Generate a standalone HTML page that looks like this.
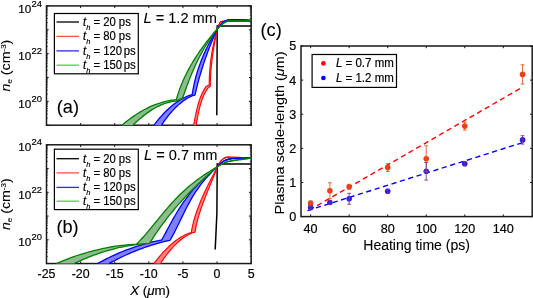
<!DOCTYPE html>
<html><head><meta charset="utf-8"><style>
html,body{margin:0;padding:0;background:#fff;}
body{width:533px;height:298px;overflow:hidden;}
svg{display:block;font-family:"Liberation Sans", sans-serif;will-change:transform;}
.t{fill:#000;stroke:#000;stroke-width:0.18px;}
.t2{fill:#000;stroke:#000;stroke-width:0.1px;}
</style></head><body>
<svg width="533" height="298" viewBox="0 0 533 298">
<rect width="533" height="298" fill="#fff"/>
<rect x="46.50" y="5.90" width="204.65" height="119.30" fill="none" stroke="#1a1a1a" stroke-width="1.5"/>
<line x1="46.50" y1="125.20" x2="46.50" y2="123.00" stroke="#1a1a1a" stroke-width="1"/>
<line x1="46.50" y1="5.90" x2="46.50" y2="8.10" stroke="#1a1a1a" stroke-width="1"/>
<line x1="80.61" y1="125.20" x2="80.61" y2="123.00" stroke="#1a1a1a" stroke-width="1"/>
<line x1="80.61" y1="5.90" x2="80.61" y2="8.10" stroke="#1a1a1a" stroke-width="1"/>
<line x1="114.72" y1="125.20" x2="114.72" y2="123.00" stroke="#1a1a1a" stroke-width="1"/>
<line x1="114.72" y1="5.90" x2="114.72" y2="8.10" stroke="#1a1a1a" stroke-width="1"/>
<line x1="148.82" y1="125.20" x2="148.82" y2="123.00" stroke="#1a1a1a" stroke-width="1"/>
<line x1="148.82" y1="5.90" x2="148.82" y2="8.10" stroke="#1a1a1a" stroke-width="1"/>
<line x1="182.93" y1="125.20" x2="182.93" y2="123.00" stroke="#1a1a1a" stroke-width="1"/>
<line x1="182.93" y1="5.90" x2="182.93" y2="8.10" stroke="#1a1a1a" stroke-width="1"/>
<line x1="217.04" y1="125.20" x2="217.04" y2="123.00" stroke="#1a1a1a" stroke-width="1"/>
<line x1="217.04" y1="5.90" x2="217.04" y2="8.10" stroke="#1a1a1a" stroke-width="1"/>
<line x1="251.15" y1="125.20" x2="251.15" y2="123.00" stroke="#1a1a1a" stroke-width="1"/>
<line x1="251.15" y1="5.90" x2="251.15" y2="8.10" stroke="#1a1a1a" stroke-width="1"/>
<line x1="46.50" y1="125.20" x2="48.70" y2="125.20" stroke="#1a1a1a" stroke-width="1"/>
<line x1="251.15" y1="125.20" x2="248.95" y2="125.20" stroke="#1a1a1a" stroke-width="1"/>
<line x1="46.50" y1="118.02" x2="47.80" y2="118.02" stroke="#1a1a1a" stroke-width="0.8"/>
<line x1="251.15" y1="118.02" x2="249.85" y2="118.02" stroke="#1a1a1a" stroke-width="0.8"/>
<line x1="46.50" y1="113.82" x2="47.80" y2="113.82" stroke="#1a1a1a" stroke-width="0.8"/>
<line x1="251.15" y1="113.82" x2="249.85" y2="113.82" stroke="#1a1a1a" stroke-width="0.8"/>
<line x1="46.50" y1="110.83" x2="47.80" y2="110.83" stroke="#1a1a1a" stroke-width="0.8"/>
<line x1="251.15" y1="110.83" x2="249.85" y2="110.83" stroke="#1a1a1a" stroke-width="0.8"/>
<line x1="46.50" y1="108.52" x2="47.80" y2="108.52" stroke="#1a1a1a" stroke-width="0.8"/>
<line x1="251.15" y1="108.52" x2="249.85" y2="108.52" stroke="#1a1a1a" stroke-width="0.8"/>
<line x1="46.50" y1="106.63" x2="47.80" y2="106.63" stroke="#1a1a1a" stroke-width="0.8"/>
<line x1="251.15" y1="106.63" x2="249.85" y2="106.63" stroke="#1a1a1a" stroke-width="0.8"/>
<line x1="46.50" y1="105.04" x2="47.80" y2="105.04" stroke="#1a1a1a" stroke-width="0.8"/>
<line x1="251.15" y1="105.04" x2="249.85" y2="105.04" stroke="#1a1a1a" stroke-width="0.8"/>
<line x1="46.50" y1="103.65" x2="47.80" y2="103.65" stroke="#1a1a1a" stroke-width="0.8"/>
<line x1="251.15" y1="103.65" x2="249.85" y2="103.65" stroke="#1a1a1a" stroke-width="0.8"/>
<line x1="46.50" y1="102.43" x2="47.80" y2="102.43" stroke="#1a1a1a" stroke-width="0.8"/>
<line x1="251.15" y1="102.43" x2="249.85" y2="102.43" stroke="#1a1a1a" stroke-width="0.8"/>
<line x1="46.50" y1="101.34" x2="48.70" y2="101.34" stroke="#1a1a1a" stroke-width="1"/>
<line x1="251.15" y1="101.34" x2="248.95" y2="101.34" stroke="#1a1a1a" stroke-width="1"/>
<line x1="46.50" y1="94.16" x2="47.80" y2="94.16" stroke="#1a1a1a" stroke-width="0.8"/>
<line x1="251.15" y1="94.16" x2="249.85" y2="94.16" stroke="#1a1a1a" stroke-width="0.8"/>
<line x1="46.50" y1="89.96" x2="47.80" y2="89.96" stroke="#1a1a1a" stroke-width="0.8"/>
<line x1="251.15" y1="89.96" x2="249.85" y2="89.96" stroke="#1a1a1a" stroke-width="0.8"/>
<line x1="46.50" y1="86.97" x2="47.80" y2="86.97" stroke="#1a1a1a" stroke-width="0.8"/>
<line x1="251.15" y1="86.97" x2="249.85" y2="86.97" stroke="#1a1a1a" stroke-width="0.8"/>
<line x1="46.50" y1="84.66" x2="47.80" y2="84.66" stroke="#1a1a1a" stroke-width="0.8"/>
<line x1="251.15" y1="84.66" x2="249.85" y2="84.66" stroke="#1a1a1a" stroke-width="0.8"/>
<line x1="46.50" y1="82.77" x2="47.80" y2="82.77" stroke="#1a1a1a" stroke-width="0.8"/>
<line x1="251.15" y1="82.77" x2="249.85" y2="82.77" stroke="#1a1a1a" stroke-width="0.8"/>
<line x1="46.50" y1="81.18" x2="47.80" y2="81.18" stroke="#1a1a1a" stroke-width="0.8"/>
<line x1="251.15" y1="81.18" x2="249.85" y2="81.18" stroke="#1a1a1a" stroke-width="0.8"/>
<line x1="46.50" y1="79.79" x2="47.80" y2="79.79" stroke="#1a1a1a" stroke-width="0.8"/>
<line x1="251.15" y1="79.79" x2="249.85" y2="79.79" stroke="#1a1a1a" stroke-width="0.8"/>
<line x1="46.50" y1="78.57" x2="47.80" y2="78.57" stroke="#1a1a1a" stroke-width="0.8"/>
<line x1="251.15" y1="78.57" x2="249.85" y2="78.57" stroke="#1a1a1a" stroke-width="0.8"/>
<line x1="46.50" y1="77.48" x2="48.70" y2="77.48" stroke="#1a1a1a" stroke-width="1"/>
<line x1="251.15" y1="77.48" x2="248.95" y2="77.48" stroke="#1a1a1a" stroke-width="1"/>
<line x1="46.50" y1="70.30" x2="47.80" y2="70.30" stroke="#1a1a1a" stroke-width="0.8"/>
<line x1="251.15" y1="70.30" x2="249.85" y2="70.30" stroke="#1a1a1a" stroke-width="0.8"/>
<line x1="46.50" y1="66.10" x2="47.80" y2="66.10" stroke="#1a1a1a" stroke-width="0.8"/>
<line x1="251.15" y1="66.10" x2="249.85" y2="66.10" stroke="#1a1a1a" stroke-width="0.8"/>
<line x1="46.50" y1="63.11" x2="47.80" y2="63.11" stroke="#1a1a1a" stroke-width="0.8"/>
<line x1="251.15" y1="63.11" x2="249.85" y2="63.11" stroke="#1a1a1a" stroke-width="0.8"/>
<line x1="46.50" y1="60.80" x2="47.80" y2="60.80" stroke="#1a1a1a" stroke-width="0.8"/>
<line x1="251.15" y1="60.80" x2="249.85" y2="60.80" stroke="#1a1a1a" stroke-width="0.8"/>
<line x1="46.50" y1="58.91" x2="47.80" y2="58.91" stroke="#1a1a1a" stroke-width="0.8"/>
<line x1="251.15" y1="58.91" x2="249.85" y2="58.91" stroke="#1a1a1a" stroke-width="0.8"/>
<line x1="46.50" y1="57.32" x2="47.80" y2="57.32" stroke="#1a1a1a" stroke-width="0.8"/>
<line x1="251.15" y1="57.32" x2="249.85" y2="57.32" stroke="#1a1a1a" stroke-width="0.8"/>
<line x1="46.50" y1="55.93" x2="47.80" y2="55.93" stroke="#1a1a1a" stroke-width="0.8"/>
<line x1="251.15" y1="55.93" x2="249.85" y2="55.93" stroke="#1a1a1a" stroke-width="0.8"/>
<line x1="46.50" y1="54.71" x2="47.80" y2="54.71" stroke="#1a1a1a" stroke-width="0.8"/>
<line x1="251.15" y1="54.71" x2="249.85" y2="54.71" stroke="#1a1a1a" stroke-width="0.8"/>
<line x1="46.50" y1="53.62" x2="48.70" y2="53.62" stroke="#1a1a1a" stroke-width="1"/>
<line x1="251.15" y1="53.62" x2="248.95" y2="53.62" stroke="#1a1a1a" stroke-width="1"/>
<line x1="46.50" y1="46.44" x2="47.80" y2="46.44" stroke="#1a1a1a" stroke-width="0.8"/>
<line x1="251.15" y1="46.44" x2="249.85" y2="46.44" stroke="#1a1a1a" stroke-width="0.8"/>
<line x1="46.50" y1="42.24" x2="47.80" y2="42.24" stroke="#1a1a1a" stroke-width="0.8"/>
<line x1="251.15" y1="42.24" x2="249.85" y2="42.24" stroke="#1a1a1a" stroke-width="0.8"/>
<line x1="46.50" y1="39.25" x2="47.80" y2="39.25" stroke="#1a1a1a" stroke-width="0.8"/>
<line x1="251.15" y1="39.25" x2="249.85" y2="39.25" stroke="#1a1a1a" stroke-width="0.8"/>
<line x1="46.50" y1="36.94" x2="47.80" y2="36.94" stroke="#1a1a1a" stroke-width="0.8"/>
<line x1="251.15" y1="36.94" x2="249.85" y2="36.94" stroke="#1a1a1a" stroke-width="0.8"/>
<line x1="46.50" y1="35.05" x2="47.80" y2="35.05" stroke="#1a1a1a" stroke-width="0.8"/>
<line x1="251.15" y1="35.05" x2="249.85" y2="35.05" stroke="#1a1a1a" stroke-width="0.8"/>
<line x1="46.50" y1="33.46" x2="47.80" y2="33.46" stroke="#1a1a1a" stroke-width="0.8"/>
<line x1="251.15" y1="33.46" x2="249.85" y2="33.46" stroke="#1a1a1a" stroke-width="0.8"/>
<line x1="46.50" y1="32.07" x2="47.80" y2="32.07" stroke="#1a1a1a" stroke-width="0.8"/>
<line x1="251.15" y1="32.07" x2="249.85" y2="32.07" stroke="#1a1a1a" stroke-width="0.8"/>
<line x1="46.50" y1="30.85" x2="47.80" y2="30.85" stroke="#1a1a1a" stroke-width="0.8"/>
<line x1="251.15" y1="30.85" x2="249.85" y2="30.85" stroke="#1a1a1a" stroke-width="0.8"/>
<line x1="46.50" y1="29.76" x2="48.70" y2="29.76" stroke="#1a1a1a" stroke-width="1"/>
<line x1="251.15" y1="29.76" x2="248.95" y2="29.76" stroke="#1a1a1a" stroke-width="1"/>
<line x1="46.50" y1="22.58" x2="47.80" y2="22.58" stroke="#1a1a1a" stroke-width="0.8"/>
<line x1="251.15" y1="22.58" x2="249.85" y2="22.58" stroke="#1a1a1a" stroke-width="0.8"/>
<line x1="46.50" y1="18.38" x2="47.80" y2="18.38" stroke="#1a1a1a" stroke-width="0.8"/>
<line x1="251.15" y1="18.38" x2="249.85" y2="18.38" stroke="#1a1a1a" stroke-width="0.8"/>
<line x1="46.50" y1="15.39" x2="47.80" y2="15.39" stroke="#1a1a1a" stroke-width="0.8"/>
<line x1="251.15" y1="15.39" x2="249.85" y2="15.39" stroke="#1a1a1a" stroke-width="0.8"/>
<line x1="46.50" y1="13.08" x2="47.80" y2="13.08" stroke="#1a1a1a" stroke-width="0.8"/>
<line x1="251.15" y1="13.08" x2="249.85" y2="13.08" stroke="#1a1a1a" stroke-width="0.8"/>
<line x1="46.50" y1="11.19" x2="47.80" y2="11.19" stroke="#1a1a1a" stroke-width="0.8"/>
<line x1="251.15" y1="11.19" x2="249.85" y2="11.19" stroke="#1a1a1a" stroke-width="0.8"/>
<line x1="46.50" y1="9.60" x2="47.80" y2="9.60" stroke="#1a1a1a" stroke-width="0.8"/>
<line x1="251.15" y1="9.60" x2="249.85" y2="9.60" stroke="#1a1a1a" stroke-width="0.8"/>
<line x1="46.50" y1="8.21" x2="47.80" y2="8.21" stroke="#1a1a1a" stroke-width="0.8"/>
<line x1="251.15" y1="8.21" x2="249.85" y2="8.21" stroke="#1a1a1a" stroke-width="0.8"/>
<line x1="46.50" y1="6.99" x2="47.80" y2="6.99" stroke="#1a1a1a" stroke-width="0.8"/>
<line x1="251.15" y1="6.99" x2="249.85" y2="6.99" stroke="#1a1a1a" stroke-width="0.8"/>
<line x1="46.50" y1="5.90" x2="48.70" y2="5.90" stroke="#1a1a1a" stroke-width="1"/>
<line x1="251.15" y1="5.90" x2="248.95" y2="5.90" stroke="#1a1a1a" stroke-width="1"/>
<text x="31.3" y="107.94" font-size="11.7" text-anchor="end" class="t">10</text>
<text x="31.6" y="101.94" font-size="9.4" class="t">20</text>
<text x="31.3" y="60.22" font-size="11.7" text-anchor="end" class="t">10</text>
<text x="31.6" y="54.22" font-size="9.4" class="t">22</text>
<text x="31.3" y="12.50" font-size="11.7" text-anchor="end" class="t">10</text>
<text x="31.6" y="6.50" font-size="9.4" class="t">24</text>
<g transform="translate(10.0,65.55) rotate(-90) scale(1,0.9)"><text x="0" y="0" font-size="14.2" text-anchor="middle" class="t2"><tspan font-style="italic">n</tspan><tspan font-size="8" dy="2.5">e</tspan><tspan dy="-2.5"> (cm</tspan><tspan font-size="8" dy="-5">-3</tspan><tspan dy="5">)</tspan></text></g>
<rect x="46.50" y="144.80" width="204.65" height="118.75" fill="none" stroke="#1a1a1a" stroke-width="1.5"/>
<line x1="46.50" y1="263.55" x2="46.50" y2="261.35" stroke="#1a1a1a" stroke-width="1"/>
<line x1="46.50" y1="144.80" x2="46.50" y2="147.00" stroke="#1a1a1a" stroke-width="1"/>
<line x1="80.61" y1="263.55" x2="80.61" y2="261.35" stroke="#1a1a1a" stroke-width="1"/>
<line x1="80.61" y1="144.80" x2="80.61" y2="147.00" stroke="#1a1a1a" stroke-width="1"/>
<line x1="114.72" y1="263.55" x2="114.72" y2="261.35" stroke="#1a1a1a" stroke-width="1"/>
<line x1="114.72" y1="144.80" x2="114.72" y2="147.00" stroke="#1a1a1a" stroke-width="1"/>
<line x1="148.82" y1="263.55" x2="148.82" y2="261.35" stroke="#1a1a1a" stroke-width="1"/>
<line x1="148.82" y1="144.80" x2="148.82" y2="147.00" stroke="#1a1a1a" stroke-width="1"/>
<line x1="182.93" y1="263.55" x2="182.93" y2="261.35" stroke="#1a1a1a" stroke-width="1"/>
<line x1="182.93" y1="144.80" x2="182.93" y2="147.00" stroke="#1a1a1a" stroke-width="1"/>
<line x1="217.04" y1="263.55" x2="217.04" y2="261.35" stroke="#1a1a1a" stroke-width="1"/>
<line x1="217.04" y1="144.80" x2="217.04" y2="147.00" stroke="#1a1a1a" stroke-width="1"/>
<line x1="251.15" y1="263.55" x2="251.15" y2="261.35" stroke="#1a1a1a" stroke-width="1"/>
<line x1="251.15" y1="144.80" x2="251.15" y2="147.00" stroke="#1a1a1a" stroke-width="1"/>
<line x1="46.50" y1="263.55" x2="48.70" y2="263.55" stroke="#1a1a1a" stroke-width="1"/>
<line x1="251.15" y1="263.55" x2="248.95" y2="263.55" stroke="#1a1a1a" stroke-width="1"/>
<line x1="46.50" y1="256.40" x2="47.80" y2="256.40" stroke="#1a1a1a" stroke-width="0.8"/>
<line x1="251.15" y1="256.40" x2="249.85" y2="256.40" stroke="#1a1a1a" stroke-width="0.8"/>
<line x1="46.50" y1="252.22" x2="47.80" y2="252.22" stroke="#1a1a1a" stroke-width="0.8"/>
<line x1="251.15" y1="252.22" x2="249.85" y2="252.22" stroke="#1a1a1a" stroke-width="0.8"/>
<line x1="46.50" y1="249.25" x2="47.80" y2="249.25" stroke="#1a1a1a" stroke-width="0.8"/>
<line x1="251.15" y1="249.25" x2="249.85" y2="249.25" stroke="#1a1a1a" stroke-width="0.8"/>
<line x1="46.50" y1="246.95" x2="47.80" y2="246.95" stroke="#1a1a1a" stroke-width="0.8"/>
<line x1="251.15" y1="246.95" x2="249.85" y2="246.95" stroke="#1a1a1a" stroke-width="0.8"/>
<line x1="46.50" y1="245.07" x2="47.80" y2="245.07" stroke="#1a1a1a" stroke-width="0.8"/>
<line x1="251.15" y1="245.07" x2="249.85" y2="245.07" stroke="#1a1a1a" stroke-width="0.8"/>
<line x1="46.50" y1="243.48" x2="47.80" y2="243.48" stroke="#1a1a1a" stroke-width="0.8"/>
<line x1="251.15" y1="243.48" x2="249.85" y2="243.48" stroke="#1a1a1a" stroke-width="0.8"/>
<line x1="46.50" y1="242.10" x2="47.80" y2="242.10" stroke="#1a1a1a" stroke-width="0.8"/>
<line x1="251.15" y1="242.10" x2="249.85" y2="242.10" stroke="#1a1a1a" stroke-width="0.8"/>
<line x1="46.50" y1="240.89" x2="47.80" y2="240.89" stroke="#1a1a1a" stroke-width="0.8"/>
<line x1="251.15" y1="240.89" x2="249.85" y2="240.89" stroke="#1a1a1a" stroke-width="0.8"/>
<line x1="46.50" y1="239.80" x2="48.70" y2="239.80" stroke="#1a1a1a" stroke-width="1"/>
<line x1="251.15" y1="239.80" x2="248.95" y2="239.80" stroke="#1a1a1a" stroke-width="1"/>
<line x1="46.50" y1="232.65" x2="47.80" y2="232.65" stroke="#1a1a1a" stroke-width="0.8"/>
<line x1="251.15" y1="232.65" x2="249.85" y2="232.65" stroke="#1a1a1a" stroke-width="0.8"/>
<line x1="46.50" y1="228.47" x2="47.80" y2="228.47" stroke="#1a1a1a" stroke-width="0.8"/>
<line x1="251.15" y1="228.47" x2="249.85" y2="228.47" stroke="#1a1a1a" stroke-width="0.8"/>
<line x1="46.50" y1="225.50" x2="47.80" y2="225.50" stroke="#1a1a1a" stroke-width="0.8"/>
<line x1="251.15" y1="225.50" x2="249.85" y2="225.50" stroke="#1a1a1a" stroke-width="0.8"/>
<line x1="46.50" y1="223.20" x2="47.80" y2="223.20" stroke="#1a1a1a" stroke-width="0.8"/>
<line x1="251.15" y1="223.20" x2="249.85" y2="223.20" stroke="#1a1a1a" stroke-width="0.8"/>
<line x1="46.50" y1="221.32" x2="47.80" y2="221.32" stroke="#1a1a1a" stroke-width="0.8"/>
<line x1="251.15" y1="221.32" x2="249.85" y2="221.32" stroke="#1a1a1a" stroke-width="0.8"/>
<line x1="46.50" y1="219.73" x2="47.80" y2="219.73" stroke="#1a1a1a" stroke-width="0.8"/>
<line x1="251.15" y1="219.73" x2="249.85" y2="219.73" stroke="#1a1a1a" stroke-width="0.8"/>
<line x1="46.50" y1="218.35" x2="47.80" y2="218.35" stroke="#1a1a1a" stroke-width="0.8"/>
<line x1="251.15" y1="218.35" x2="249.85" y2="218.35" stroke="#1a1a1a" stroke-width="0.8"/>
<line x1="46.50" y1="217.14" x2="47.80" y2="217.14" stroke="#1a1a1a" stroke-width="0.8"/>
<line x1="251.15" y1="217.14" x2="249.85" y2="217.14" stroke="#1a1a1a" stroke-width="0.8"/>
<line x1="46.50" y1="216.05" x2="48.70" y2="216.05" stroke="#1a1a1a" stroke-width="1"/>
<line x1="251.15" y1="216.05" x2="248.95" y2="216.05" stroke="#1a1a1a" stroke-width="1"/>
<line x1="46.50" y1="208.90" x2="47.80" y2="208.90" stroke="#1a1a1a" stroke-width="0.8"/>
<line x1="251.15" y1="208.90" x2="249.85" y2="208.90" stroke="#1a1a1a" stroke-width="0.8"/>
<line x1="46.50" y1="204.72" x2="47.80" y2="204.72" stroke="#1a1a1a" stroke-width="0.8"/>
<line x1="251.15" y1="204.72" x2="249.85" y2="204.72" stroke="#1a1a1a" stroke-width="0.8"/>
<line x1="46.50" y1="201.75" x2="47.80" y2="201.75" stroke="#1a1a1a" stroke-width="0.8"/>
<line x1="251.15" y1="201.75" x2="249.85" y2="201.75" stroke="#1a1a1a" stroke-width="0.8"/>
<line x1="46.50" y1="199.45" x2="47.80" y2="199.45" stroke="#1a1a1a" stroke-width="0.8"/>
<line x1="251.15" y1="199.45" x2="249.85" y2="199.45" stroke="#1a1a1a" stroke-width="0.8"/>
<line x1="46.50" y1="197.57" x2="47.80" y2="197.57" stroke="#1a1a1a" stroke-width="0.8"/>
<line x1="251.15" y1="197.57" x2="249.85" y2="197.57" stroke="#1a1a1a" stroke-width="0.8"/>
<line x1="46.50" y1="195.98" x2="47.80" y2="195.98" stroke="#1a1a1a" stroke-width="0.8"/>
<line x1="251.15" y1="195.98" x2="249.85" y2="195.98" stroke="#1a1a1a" stroke-width="0.8"/>
<line x1="46.50" y1="194.60" x2="47.80" y2="194.60" stroke="#1a1a1a" stroke-width="0.8"/>
<line x1="251.15" y1="194.60" x2="249.85" y2="194.60" stroke="#1a1a1a" stroke-width="0.8"/>
<line x1="46.50" y1="193.39" x2="47.80" y2="193.39" stroke="#1a1a1a" stroke-width="0.8"/>
<line x1="251.15" y1="193.39" x2="249.85" y2="193.39" stroke="#1a1a1a" stroke-width="0.8"/>
<line x1="46.50" y1="192.30" x2="48.70" y2="192.30" stroke="#1a1a1a" stroke-width="1"/>
<line x1="251.15" y1="192.30" x2="248.95" y2="192.30" stroke="#1a1a1a" stroke-width="1"/>
<line x1="46.50" y1="185.15" x2="47.80" y2="185.15" stroke="#1a1a1a" stroke-width="0.8"/>
<line x1="251.15" y1="185.15" x2="249.85" y2="185.15" stroke="#1a1a1a" stroke-width="0.8"/>
<line x1="46.50" y1="180.97" x2="47.80" y2="180.97" stroke="#1a1a1a" stroke-width="0.8"/>
<line x1="251.15" y1="180.97" x2="249.85" y2="180.97" stroke="#1a1a1a" stroke-width="0.8"/>
<line x1="46.50" y1="178.00" x2="47.80" y2="178.00" stroke="#1a1a1a" stroke-width="0.8"/>
<line x1="251.15" y1="178.00" x2="249.85" y2="178.00" stroke="#1a1a1a" stroke-width="0.8"/>
<line x1="46.50" y1="175.70" x2="47.80" y2="175.70" stroke="#1a1a1a" stroke-width="0.8"/>
<line x1="251.15" y1="175.70" x2="249.85" y2="175.70" stroke="#1a1a1a" stroke-width="0.8"/>
<line x1="46.50" y1="173.82" x2="47.80" y2="173.82" stroke="#1a1a1a" stroke-width="0.8"/>
<line x1="251.15" y1="173.82" x2="249.85" y2="173.82" stroke="#1a1a1a" stroke-width="0.8"/>
<line x1="46.50" y1="172.23" x2="47.80" y2="172.23" stroke="#1a1a1a" stroke-width="0.8"/>
<line x1="251.15" y1="172.23" x2="249.85" y2="172.23" stroke="#1a1a1a" stroke-width="0.8"/>
<line x1="46.50" y1="170.85" x2="47.80" y2="170.85" stroke="#1a1a1a" stroke-width="0.8"/>
<line x1="251.15" y1="170.85" x2="249.85" y2="170.85" stroke="#1a1a1a" stroke-width="0.8"/>
<line x1="46.50" y1="169.64" x2="47.80" y2="169.64" stroke="#1a1a1a" stroke-width="0.8"/>
<line x1="251.15" y1="169.64" x2="249.85" y2="169.64" stroke="#1a1a1a" stroke-width="0.8"/>
<line x1="46.50" y1="168.55" x2="48.70" y2="168.55" stroke="#1a1a1a" stroke-width="1"/>
<line x1="251.15" y1="168.55" x2="248.95" y2="168.55" stroke="#1a1a1a" stroke-width="1"/>
<line x1="46.50" y1="161.40" x2="47.80" y2="161.40" stroke="#1a1a1a" stroke-width="0.8"/>
<line x1="251.15" y1="161.40" x2="249.85" y2="161.40" stroke="#1a1a1a" stroke-width="0.8"/>
<line x1="46.50" y1="157.22" x2="47.80" y2="157.22" stroke="#1a1a1a" stroke-width="0.8"/>
<line x1="251.15" y1="157.22" x2="249.85" y2="157.22" stroke="#1a1a1a" stroke-width="0.8"/>
<line x1="46.50" y1="154.25" x2="47.80" y2="154.25" stroke="#1a1a1a" stroke-width="0.8"/>
<line x1="251.15" y1="154.25" x2="249.85" y2="154.25" stroke="#1a1a1a" stroke-width="0.8"/>
<line x1="46.50" y1="151.95" x2="47.80" y2="151.95" stroke="#1a1a1a" stroke-width="0.8"/>
<line x1="251.15" y1="151.95" x2="249.85" y2="151.95" stroke="#1a1a1a" stroke-width="0.8"/>
<line x1="46.50" y1="150.07" x2="47.80" y2="150.07" stroke="#1a1a1a" stroke-width="0.8"/>
<line x1="251.15" y1="150.07" x2="249.85" y2="150.07" stroke="#1a1a1a" stroke-width="0.8"/>
<line x1="46.50" y1="148.48" x2="47.80" y2="148.48" stroke="#1a1a1a" stroke-width="0.8"/>
<line x1="251.15" y1="148.48" x2="249.85" y2="148.48" stroke="#1a1a1a" stroke-width="0.8"/>
<line x1="46.50" y1="147.10" x2="47.80" y2="147.10" stroke="#1a1a1a" stroke-width="0.8"/>
<line x1="251.15" y1="147.10" x2="249.85" y2="147.10" stroke="#1a1a1a" stroke-width="0.8"/>
<line x1="46.50" y1="145.89" x2="47.80" y2="145.89" stroke="#1a1a1a" stroke-width="0.8"/>
<line x1="251.15" y1="145.89" x2="249.85" y2="145.89" stroke="#1a1a1a" stroke-width="0.8"/>
<line x1="46.50" y1="144.80" x2="48.70" y2="144.80" stroke="#1a1a1a" stroke-width="1"/>
<line x1="251.15" y1="144.80" x2="248.95" y2="144.80" stroke="#1a1a1a" stroke-width="1"/>
<text x="31.3" y="246.40" font-size="11.7" text-anchor="end" class="t">10</text>
<text x="31.6" y="240.40" font-size="9.4" class="t">20</text>
<text x="31.3" y="198.90" font-size="11.7" text-anchor="end" class="t">10</text>
<text x="31.6" y="192.90" font-size="9.4" class="t">22</text>
<text x="31.3" y="151.40" font-size="11.7" text-anchor="end" class="t">10</text>
<text x="31.6" y="145.40" font-size="9.4" class="t">24</text>
<g transform="translate(10.0,204.18) rotate(-90) scale(1,0.9)"><text x="0" y="0" font-size="14.2" text-anchor="middle" class="t2"><tspan font-style="italic">n</tspan><tspan font-size="8" dy="2.5">e</tspan><tspan dy="-2.5"> (cm</tspan><tspan font-size="8" dy="-5">-3</tspan><tspan dy="5">)</tspan></text></g>
<text x="46.50" y="278.3" font-size="12.4" text-anchor="middle" class="t">-25</text>
<text x="80.61" y="278.3" font-size="12.4" text-anchor="middle" class="t">-20</text>
<text x="114.72" y="278.3" font-size="12.4" text-anchor="middle" class="t">-15</text>
<text x="148.82" y="278.3" font-size="12.4" text-anchor="middle" class="t">-10</text>
<text x="182.93" y="278.3" font-size="12.4" text-anchor="middle" class="t">-5</text>
<text x="217.04" y="278.3" font-size="12.4" text-anchor="middle" class="t">0</text>
<text x="251.15" y="278.3" font-size="12.4" text-anchor="middle" class="t">5</text>
<text x="150.1" y="294.9" font-size="13.3" text-anchor="middle" class="t"><tspan font-style="italic">X</tspan> (<tspan font-style="italic">&#956;</tspan>m)</text>
<g>
<polyline points="216.8,115.2 217.2,26.1 251.3,26.1" fill="none" stroke="#000" stroke-width="1.5"/>
<path d="M193.70,125.20 C193.79,124.67 194.06,123.06 194.23,122.03 C194.41,121.01 194.59,120.02 194.77,119.06 C194.95,118.10 195.13,117.17 195.30,116.27 C195.48,115.37 195.66,114.51 195.84,113.67 C196.02,112.82 196.20,112.01 196.37,111.23 C196.55,110.44 196.73,109.68 196.91,108.95 C197.09,108.22 197.27,107.51 197.44,106.83 C197.62,106.14 197.80,105.48 197.98,104.84 C198.16,104.21 198.33,103.59 198.51,103.00 C198.69,102.40 198.87,101.83 199.05,101.28 C199.23,100.72 199.40,100.19 199.58,99.68 C199.76,99.16 199.94,98.66 200.12,98.18 C200.30,97.70 200.47,97.24 200.65,96.79 C200.83,96.34 201.01,95.91 201.19,95.49 C201.37,95.07 201.54,94.67 201.72,94.27 C201.90,93.88 202.08,93.50 202.26,93.13 C202.43,92.76 202.61,92.40 202.79,92.06 C202.97,91.71 203.15,91.37 203.33,91.04 C203.50,90.70 203.68,90.38 203.86,90.07 C204.04,89.75 204.22,89.44 204.40,89.14 C204.57,88.83 204.75,88.53 204.93,88.24 C205.11,87.94 205.29,87.65 205.47,87.36 C205.64,87.07 205.91,86.64 206.00,86.50 C206.53,86.25 208.67,85.25 209.20,85.00 C209.20,84.59 209.21,83.37 209.22,82.56 C209.23,81.75 209.24,80.93 209.27,80.12 C209.29,79.31 209.31,78.50 209.34,77.68 C209.37,76.87 209.41,76.06 209.45,75.24 C209.49,74.43 209.54,73.62 209.59,72.80 C209.64,71.99 209.70,71.18 209.76,70.37 C209.82,69.55 209.89,68.74 209.96,67.93 C210.03,67.11 210.10,66.30 210.19,65.49 C210.27,64.67 210.35,63.86 210.45,63.05 C210.54,62.23 210.63,61.42 210.74,60.61 C210.84,59.80 210.94,58.98 211.06,58.17 C211.17,57.36 211.28,56.54 211.41,55.73 C211.53,54.92 211.66,54.10 211.79,53.29 C211.92,52.48 212.06,51.67 212.20,50.85 C212.34,50.04 212.49,49.23 212.64,48.41 C212.80,47.60 212.95,46.79 213.12,45.97 C213.28,45.16 213.45,44.35 213.62,43.53 C213.79,42.72 213.97,41.91 214.16,41.10 C214.34,40.28 214.53,39.47 214.72,38.66 C214.92,37.84 215.12,37.03 215.32,36.22 C215.53,35.40 215.73,34.59 215.95,33.78 C216.16,32.97 216.38,32.15 216.61,31.34 C216.83,30.53 217.18,29.31 217.30,28.90 C217.72,27.92 218.93,24.25 219.80,23.00 C220.67,21.75 219.97,21.65 222.50,21.40 C225.03,21.15 230.20,21.48 235.00,21.50 C239.80,21.52 248.58,21.50 251.30,21.50 L251.30,21.50 C248.58,21.50 239.80,21.52 235.00,21.50 C230.20,21.48 225.03,21.15 222.50,21.40 C219.97,21.65 220.67,21.75 219.80,23.00 C218.93,24.25 217.72,27.92 217.30,28.90 C217.22,29.32 216.96,30.56 216.79,31.39 C216.63,32.22 216.46,33.05 216.30,33.88 C216.14,34.71 215.98,35.54 215.82,36.37 C215.66,37.20 215.50,38.03 215.35,38.87 C215.19,39.70 215.04,40.53 214.89,41.36 C214.74,42.19 214.60,43.02 214.45,43.85 C214.31,44.68 214.17,45.51 214.03,46.34 C213.89,47.17 213.75,48.00 213.62,48.83 C213.49,49.66 213.36,50.49 213.23,51.32 C213.11,52.15 212.98,52.98 212.86,53.81 C212.74,54.64 212.63,55.47 212.51,56.30 C212.40,57.13 212.29,57.97 212.19,58.80 C212.08,59.63 211.98,60.46 211.88,61.29 C211.78,62.12 211.69,62.95 211.60,63.78 C211.51,64.61 211.42,65.44 211.34,66.27 C211.26,67.10 211.18,67.93 211.11,68.76 C211.04,69.59 210.97,70.42 210.91,71.25 C210.84,72.08 210.78,72.91 210.73,73.74 C210.68,74.57 210.63,75.40 210.58,76.23 C210.54,77.07 210.50,77.90 210.46,78.73 C210.43,79.56 210.40,80.39 210.38,81.22 C210.35,82.05 210.33,82.88 210.32,83.71 C210.31,84.54 210.30,85.78 210.30,86.20 C209.92,86.53 208.38,87.87 208.00,88.20 C207.91,88.32 207.66,88.68 207.49,88.93 C207.32,89.17 207.14,89.42 206.97,89.68 C206.80,89.93 206.63,90.19 206.46,90.46 C206.29,90.72 206.12,91.00 205.95,91.28 C205.78,91.56 205.61,91.85 205.43,92.15 C205.26,92.45 205.09,92.75 204.92,93.07 C204.75,93.39 204.58,93.72 204.41,94.06 C204.24,94.40 204.07,94.75 203.90,95.12 C203.72,95.49 203.55,95.87 203.38,96.26 C203.21,96.66 203.04,97.07 202.87,97.49 C202.70,97.92 202.53,98.36 202.36,98.82 C202.19,99.28 202.01,99.75 201.84,100.25 C201.67,100.74 201.50,101.26 201.33,101.79 C201.16,102.33 200.99,102.88 200.82,103.46 C200.65,104.03 200.48,104.63 200.30,105.25 C200.13,105.87 199.96,106.51 199.79,107.18 C199.62,107.85 199.45,108.54 199.28,109.25 C199.11,109.97 198.94,110.71 198.77,111.48 C198.59,112.25 198.42,113.05 198.25,113.87 C198.08,114.69 197.91,115.55 197.74,116.43 C197.57,117.31 197.40,118.22 197.23,119.16 C197.06,120.11 196.88,121.08 196.71,122.09 C196.54,123.09 196.29,124.68 196.20,125.20 Z" fill="#ff8080" stroke="none"/>
<path d="M193.70,125.20 C193.79,124.67 194.06,123.06 194.23,122.03 C194.41,121.01 194.59,120.02 194.77,119.06 C194.95,118.10 195.13,117.17 195.30,116.27 C195.48,115.37 195.66,114.51 195.84,113.67 C196.02,112.82 196.20,112.01 196.37,111.23 C196.55,110.44 196.73,109.68 196.91,108.95 C197.09,108.22 197.27,107.51 197.44,106.83 C197.62,106.14 197.80,105.48 197.98,104.84 C198.16,104.21 198.33,103.59 198.51,103.00 C198.69,102.40 198.87,101.83 199.05,101.28 C199.23,100.72 199.40,100.19 199.58,99.68 C199.76,99.16 199.94,98.66 200.12,98.18 C200.30,97.70 200.47,97.24 200.65,96.79 C200.83,96.34 201.01,95.91 201.19,95.49 C201.37,95.07 201.54,94.67 201.72,94.27 C201.90,93.88 202.08,93.50 202.26,93.13 C202.43,92.76 202.61,92.40 202.79,92.06 C202.97,91.71 203.15,91.37 203.33,91.04 C203.50,90.70 203.68,90.38 203.86,90.07 C204.04,89.75 204.22,89.44 204.40,89.14 C204.57,88.83 204.75,88.53 204.93,88.24 C205.11,87.94 205.29,87.65 205.47,87.36 C205.64,87.07 205.91,86.64 206.00,86.50 C206.53,86.25 208.67,85.25 209.20,85.00 C209.20,84.59 209.21,83.37 209.22,82.56 C209.23,81.75 209.24,80.93 209.27,80.12 C209.29,79.31 209.31,78.50 209.34,77.68 C209.37,76.87 209.41,76.06 209.45,75.24 C209.49,74.43 209.54,73.62 209.59,72.80 C209.64,71.99 209.70,71.18 209.76,70.37 C209.82,69.55 209.89,68.74 209.96,67.93 C210.03,67.11 210.10,66.30 210.19,65.49 C210.27,64.67 210.35,63.86 210.45,63.05 C210.54,62.23 210.63,61.42 210.74,60.61 C210.84,59.80 210.94,58.98 211.06,58.17 C211.17,57.36 211.28,56.54 211.41,55.73 C211.53,54.92 211.66,54.10 211.79,53.29 C211.92,52.48 212.06,51.67 212.20,50.85 C212.34,50.04 212.49,49.23 212.64,48.41 C212.80,47.60 212.95,46.79 213.12,45.97 C213.28,45.16 213.45,44.35 213.62,43.53 C213.79,42.72 213.97,41.91 214.16,41.10 C214.34,40.28 214.53,39.47 214.72,38.66 C214.92,37.84 215.12,37.03 215.32,36.22 C215.53,35.40 215.73,34.59 215.95,33.78 C216.16,32.97 216.38,32.15 216.61,31.34 C216.83,30.53 217.18,29.31 217.30,28.90 C217.72,27.92 218.93,24.25 219.80,23.00 C220.67,21.75 219.97,21.65 222.50,21.40 C225.03,21.15 230.20,21.48 235.00,21.50 C239.80,21.52 248.58,21.50 251.30,21.50" fill="none" stroke="#ff0000" stroke-width="1.10" stroke-linejoin="round"/>
<path d="M196.20,125.20 C196.29,124.68 196.54,123.09 196.71,122.09 C196.88,121.08 197.06,120.11 197.23,119.16 C197.40,118.22 197.57,117.31 197.74,116.43 C197.91,115.55 198.08,114.69 198.25,113.87 C198.42,113.05 198.59,112.25 198.77,111.48 C198.94,110.71 199.11,109.97 199.28,109.25 C199.45,108.54 199.62,107.85 199.79,107.18 C199.96,106.51 200.13,105.87 200.30,105.25 C200.48,104.63 200.65,104.03 200.82,103.46 C200.99,102.88 201.16,102.33 201.33,101.79 C201.50,101.26 201.67,100.74 201.84,100.25 C202.01,99.75 202.19,99.28 202.36,98.82 C202.53,98.36 202.70,97.92 202.87,97.49 C203.04,97.07 203.21,96.66 203.38,96.26 C203.55,95.87 203.72,95.49 203.90,95.12 C204.07,94.75 204.24,94.40 204.41,94.06 C204.58,93.72 204.75,93.39 204.92,93.07 C205.09,92.75 205.26,92.45 205.43,92.15 C205.61,91.85 205.78,91.56 205.95,91.28 C206.12,91.00 206.29,90.72 206.46,90.46 C206.63,90.19 206.80,89.93 206.97,89.68 C207.14,89.42 207.32,89.17 207.49,88.93 C207.66,88.68 207.91,88.32 208.00,88.20 C208.38,87.87 209.92,86.53 210.30,86.20 C210.30,85.78 210.31,84.54 210.32,83.71 C210.33,82.88 210.35,82.05 210.38,81.22 C210.40,80.39 210.43,79.56 210.46,78.73 C210.50,77.90 210.54,77.07 210.58,76.23 C210.63,75.40 210.68,74.57 210.73,73.74 C210.78,72.91 210.84,72.08 210.91,71.25 C210.97,70.42 211.04,69.59 211.11,68.76 C211.18,67.93 211.26,67.10 211.34,66.27 C211.42,65.44 211.51,64.61 211.60,63.78 C211.69,62.95 211.78,62.12 211.88,61.29 C211.98,60.46 212.08,59.63 212.19,58.80 C212.29,57.97 212.40,57.13 212.51,56.30 C212.63,55.47 212.74,54.64 212.86,53.81 C212.98,52.98 213.11,52.15 213.23,51.32 C213.36,50.49 213.49,49.66 213.62,48.83 C213.75,48.00 213.89,47.17 214.03,46.34 C214.17,45.51 214.31,44.68 214.45,43.85 C214.60,43.02 214.74,42.19 214.89,41.36 C215.04,40.53 215.19,39.70 215.35,38.87 C215.50,38.03 215.66,37.20 215.82,36.37 C215.98,35.54 216.14,34.71 216.30,33.88 C216.46,33.05 216.63,32.22 216.79,31.39 C216.96,30.56 217.22,29.32 217.30,28.90 C217.72,27.92 218.93,24.25 219.80,23.00 C220.67,21.75 219.97,21.65 222.50,21.40 C225.03,21.15 230.20,21.48 235.00,21.50 C239.80,21.52 248.58,21.50 251.30,21.50" fill="none" stroke="#ff0000" stroke-width="1.10" stroke-linejoin="round"/>
<path d="M153.90,125.20 C154.18,124.84 155.01,123.74 155.57,123.03 C156.12,122.32 156.68,121.62 157.23,120.93 C157.79,120.25 158.34,119.57 158.90,118.91 C159.45,118.25 160.01,117.61 160.56,116.97 C161.12,116.34 161.67,115.72 162.23,115.11 C162.78,114.50 163.34,113.90 163.89,113.32 C164.45,112.73 165.00,112.16 165.56,111.61 C166.11,111.05 166.67,110.50 167.22,109.97 C167.78,109.44 168.33,108.92 168.89,108.41 C169.44,107.90 170.00,107.41 170.55,106.93 C171.11,106.44 171.66,105.97 172.22,105.52 C172.77,105.06 173.33,104.62 173.88,104.19 C174.44,103.76 174.99,103.34 175.55,102.93 C176.10,102.53 176.66,102.14 177.21,101.76 C177.77,101.38 178.32,101.01 178.88,100.66 C179.43,100.30 179.99,99.96 180.54,99.63 C181.10,99.30 181.65,98.99 182.21,98.68 C182.76,98.38 183.32,98.09 183.87,97.81 C184.43,97.53 184.98,97.27 185.54,97.02 C186.09,96.76 186.65,96.52 187.20,96.30 C187.76,96.07 188.31,95.86 188.87,95.66 C189.42,95.45 189.98,95.27 190.53,95.09 C191.09,94.91 191.92,94.68 192.20,94.60 C192.27,94.12 192.48,92.70 192.64,91.74 C192.79,90.79 192.96,89.84 193.14,88.89 C193.31,87.93 193.50,86.98 193.69,86.03 C193.89,85.08 194.09,84.13 194.31,83.17 C194.52,82.22 194.75,81.27 194.98,80.32 C195.22,79.37 195.47,78.41 195.72,77.46 C195.97,76.51 196.24,75.56 196.51,74.60 C196.79,73.65 197.07,72.70 197.37,71.75 C197.66,70.80 197.97,69.84 198.28,68.89 C198.60,67.94 198.92,66.99 199.25,66.03 C199.59,65.08 199.93,64.13 200.29,63.18 C200.64,62.23 201.00,61.27 201.38,60.32 C201.75,59.37 202.13,58.42 202.53,57.47 C202.92,56.51 203.32,55.56 203.74,54.61 C204.15,53.66 204.57,52.70 205.01,51.75 C205.44,50.80 205.88,49.85 206.34,48.90 C206.79,47.94 207.25,46.99 207.72,46.04 C208.20,45.09 208.68,44.13 209.17,43.18 C209.66,42.23 210.17,41.28 210.68,40.33 C211.19,39.37 211.71,38.42 212.24,37.47 C212.78,36.52 213.32,35.57 213.87,34.61 C214.42,33.66 214.98,32.71 215.56,31.76 C216.13,30.80 217.01,29.38 217.30,28.90 C218.22,27.85 220.93,24.10 222.80,22.60 C224.67,21.10 224.80,20.35 228.50,19.90 C232.20,19.45 241.20,19.78 245.00,19.90 C248.80,20.02 250.25,20.48 251.30,20.60 L251.30,20.60 C250.25,20.48 248.80,20.02 245.00,19.90 C241.20,19.78 232.20,19.45 228.50,19.90 C224.80,20.35 224.67,21.10 222.80,22.60 C220.93,24.10 218.22,27.85 217.30,28.90 C217.08,29.38 216.43,30.81 216.01,31.77 C215.58,32.73 215.16,33.68 214.75,34.64 C214.33,35.60 213.92,36.55 213.52,37.51 C213.11,38.47 212.71,39.42 212.31,40.38 C211.92,41.33 211.53,42.29 211.14,43.25 C210.75,44.20 210.37,45.16 210.00,46.12 C209.62,47.07 209.25,48.03 208.88,48.99 C208.51,49.94 208.15,50.90 207.79,51.86 C207.44,52.81 207.08,53.77 206.74,54.73 C206.39,55.68 206.05,56.64 205.71,57.60 C205.37,58.55 205.04,59.51 204.71,60.47 C204.38,61.42 204.06,62.38 203.74,63.33 C203.42,64.29 203.11,65.25 202.80,66.20 C202.49,67.16 202.19,68.12 201.89,69.07 C201.59,70.03 201.30,70.99 201.01,71.94 C200.72,72.90 200.43,73.86 200.15,74.81 C199.87,75.77 199.60,76.73 199.33,77.68 C199.06,78.64 198.80,79.60 198.54,80.55 C198.28,81.51 198.02,82.47 197.77,83.42 C197.52,84.38 197.27,85.33 197.03,86.29 C196.79,87.25 196.56,88.20 196.33,89.16 C196.10,90.12 195.87,91.07 195.65,92.03 C195.43,92.99 195.11,94.42 195.00,94.90 C194.76,94.98 194.03,95.21 193.54,95.38 C193.06,95.55 192.57,95.74 192.09,95.94 C191.60,96.13 191.12,96.35 190.63,96.57 C190.14,96.79 189.66,97.03 189.17,97.28 C188.69,97.53 188.20,97.79 187.72,98.06 C187.23,98.34 186.75,98.62 186.26,98.92 C185.78,99.22 185.29,99.54 184.80,99.86 C184.32,100.19 183.83,100.52 183.35,100.87 C182.86,101.22 182.38,101.59 181.89,101.96 C181.41,102.34 180.92,102.73 180.43,103.13 C179.95,103.53 179.46,103.94 178.98,104.37 C178.49,104.80 178.01,105.23 177.52,105.69 C177.04,106.14 176.55,106.60 176.07,107.08 C175.58,107.56 175.09,108.05 174.61,108.55 C174.12,109.05 173.64,109.57 173.15,110.10 C172.67,110.62 172.18,111.16 171.70,111.72 C171.21,112.27 170.72,112.84 170.24,113.41 C169.75,113.99 169.27,114.58 168.78,115.19 C168.30,115.79 167.81,116.41 167.33,117.04 C166.84,117.67 166.36,118.31 165.87,118.97 C165.38,119.62 164.90,120.29 164.41,120.97 C163.93,121.65 163.44,122.34 162.96,123.05 C162.47,123.75 161.74,124.84 161.50,125.20 Z" fill="#8080ff" stroke="none"/>
<path d="M153.90,125.20 C154.18,124.84 155.01,123.74 155.57,123.03 C156.12,122.32 156.68,121.62 157.23,120.93 C157.79,120.25 158.34,119.57 158.90,118.91 C159.45,118.25 160.01,117.61 160.56,116.97 C161.12,116.34 161.67,115.72 162.23,115.11 C162.78,114.50 163.34,113.90 163.89,113.32 C164.45,112.73 165.00,112.16 165.56,111.61 C166.11,111.05 166.67,110.50 167.22,109.97 C167.78,109.44 168.33,108.92 168.89,108.41 C169.44,107.90 170.00,107.41 170.55,106.93 C171.11,106.44 171.66,105.97 172.22,105.52 C172.77,105.06 173.33,104.62 173.88,104.19 C174.44,103.76 174.99,103.34 175.55,102.93 C176.10,102.53 176.66,102.14 177.21,101.76 C177.77,101.38 178.32,101.01 178.88,100.66 C179.43,100.30 179.99,99.96 180.54,99.63 C181.10,99.30 181.65,98.99 182.21,98.68 C182.76,98.38 183.32,98.09 183.87,97.81 C184.43,97.53 184.98,97.27 185.54,97.02 C186.09,96.76 186.65,96.52 187.20,96.30 C187.76,96.07 188.31,95.86 188.87,95.66 C189.42,95.45 189.98,95.27 190.53,95.09 C191.09,94.91 191.92,94.68 192.20,94.60 C192.27,94.12 192.48,92.70 192.64,91.74 C192.79,90.79 192.96,89.84 193.14,88.89 C193.31,87.93 193.50,86.98 193.69,86.03 C193.89,85.08 194.09,84.13 194.31,83.17 C194.52,82.22 194.75,81.27 194.98,80.32 C195.22,79.37 195.47,78.41 195.72,77.46 C195.97,76.51 196.24,75.56 196.51,74.60 C196.79,73.65 197.07,72.70 197.37,71.75 C197.66,70.80 197.97,69.84 198.28,68.89 C198.60,67.94 198.92,66.99 199.25,66.03 C199.59,65.08 199.93,64.13 200.29,63.18 C200.64,62.23 201.00,61.27 201.38,60.32 C201.75,59.37 202.13,58.42 202.53,57.47 C202.92,56.51 203.32,55.56 203.74,54.61 C204.15,53.66 204.57,52.70 205.01,51.75 C205.44,50.80 205.88,49.85 206.34,48.90 C206.79,47.94 207.25,46.99 207.72,46.04 C208.20,45.09 208.68,44.13 209.17,43.18 C209.66,42.23 210.17,41.28 210.68,40.33 C211.19,39.37 211.71,38.42 212.24,37.47 C212.78,36.52 213.32,35.57 213.87,34.61 C214.42,33.66 214.98,32.71 215.56,31.76 C216.13,30.80 217.01,29.38 217.30,28.90 C218.22,27.85 220.93,24.10 222.80,22.60 C224.67,21.10 224.80,20.35 228.50,19.90 C232.20,19.45 241.20,19.78 245.00,19.90 C248.80,20.02 250.25,20.48 251.30,20.60" fill="none" stroke="#0000ff" stroke-width="1.30" stroke-linejoin="round"/>
<path d="M161.50,125.20 C161.74,124.84 162.47,123.75 162.96,123.05 C163.44,122.34 163.93,121.65 164.41,120.97 C164.90,120.29 165.38,119.62 165.87,118.97 C166.36,118.31 166.84,117.67 167.33,117.04 C167.81,116.41 168.30,115.79 168.78,115.19 C169.27,114.58 169.75,113.99 170.24,113.41 C170.72,112.84 171.21,112.27 171.70,111.72 C172.18,111.16 172.67,110.62 173.15,110.10 C173.64,109.57 174.12,109.05 174.61,108.55 C175.09,108.05 175.58,107.56 176.07,107.08 C176.55,106.60 177.04,106.14 177.52,105.69 C178.01,105.23 178.49,104.80 178.98,104.37 C179.46,103.94 179.95,103.53 180.43,103.13 C180.92,102.73 181.41,102.34 181.89,101.96 C182.38,101.59 182.86,101.22 183.35,100.87 C183.83,100.52 184.32,100.19 184.80,99.86 C185.29,99.54 185.78,99.22 186.26,98.92 C186.75,98.62 187.23,98.34 187.72,98.06 C188.20,97.79 188.69,97.53 189.17,97.28 C189.66,97.03 190.14,96.79 190.63,96.57 C191.12,96.35 191.60,96.13 192.09,95.94 C192.57,95.74 193.06,95.55 193.54,95.38 C194.03,95.21 194.76,94.98 195.00,94.90 C195.11,94.42 195.43,92.99 195.65,92.03 C195.87,91.07 196.10,90.12 196.33,89.16 C196.56,88.20 196.79,87.25 197.03,86.29 C197.27,85.33 197.52,84.38 197.77,83.42 C198.02,82.47 198.28,81.51 198.54,80.55 C198.80,79.60 199.06,78.64 199.33,77.68 C199.60,76.73 199.87,75.77 200.15,74.81 C200.43,73.86 200.72,72.90 201.01,71.94 C201.30,70.99 201.59,70.03 201.89,69.07 C202.19,68.12 202.49,67.16 202.80,66.20 C203.11,65.25 203.42,64.29 203.74,63.33 C204.06,62.38 204.38,61.42 204.71,60.47 C205.04,59.51 205.37,58.55 205.71,57.60 C206.05,56.64 206.39,55.68 206.74,54.73 C207.08,53.77 207.44,52.81 207.79,51.86 C208.15,50.90 208.51,49.94 208.88,48.99 C209.25,48.03 209.62,47.07 210.00,46.12 C210.37,45.16 210.75,44.20 211.14,43.25 C211.53,42.29 211.92,41.33 212.31,40.38 C212.71,39.42 213.11,38.47 213.52,37.51 C213.92,36.55 214.33,35.60 214.75,34.64 C215.16,33.68 215.58,32.73 216.01,31.77 C216.43,30.81 217.08,29.38 217.30,28.90 C218.22,27.85 220.93,24.10 222.80,22.60 C224.67,21.10 224.80,20.35 228.50,19.90 C232.20,19.45 241.20,19.78 245.00,19.90 C248.80,20.02 250.25,20.48 251.30,20.60" fill="none" stroke="#0000ff" stroke-width="1.30" stroke-linejoin="round"/>
<path d="M121.90,125.20 C122.29,124.87 123.48,123.87 124.27,123.23 C125.05,122.59 125.84,121.96 126.63,121.34 C127.42,120.72 128.21,120.12 129.00,119.53 C129.78,118.94 130.57,118.36 131.36,117.79 C132.15,117.23 132.94,116.67 133.73,116.13 C134.51,115.60 135.30,115.07 136.09,114.55 C136.88,114.04 137.67,113.54 138.46,113.05 C139.24,112.57 140.03,112.09 140.82,111.63 C141.61,111.17 142.40,110.72 143.19,110.28 C143.98,109.85 144.76,109.42 145.55,109.01 C146.34,108.60 147.13,108.21 147.92,107.82 C148.71,107.44 149.49,107.07 150.28,106.71 C151.07,106.35 151.86,106.01 152.65,105.67 C153.44,105.34 154.22,105.02 155.01,104.72 C155.80,104.41 156.59,104.12 157.38,103.84 C158.17,103.56 158.96,103.29 159.74,103.04 C160.53,102.78 161.32,102.54 162.11,102.31 C162.90,102.08 163.69,101.87 164.47,101.67 C165.26,101.46 166.05,101.27 166.84,101.10 C167.63,100.92 168.42,100.76 169.20,100.61 C169.99,100.46 170.78,100.32 171.57,100.19 C172.36,100.07 173.15,99.96 173.93,99.86 C174.72,99.76 175.91,99.64 176.30,99.60 C176.45,99.09 176.88,97.55 177.19,96.53 C177.50,95.50 177.83,94.48 178.17,93.45 C178.50,92.43 178.86,91.40 179.22,90.38 C179.59,89.35 179.96,88.33 180.36,87.30 C180.75,86.28 181.15,85.26 181.57,84.23 C181.99,83.21 182.42,82.18 182.87,81.16 C183.32,80.13 183.78,79.11 184.25,78.08 C184.72,77.06 185.21,76.03 185.71,75.01 C186.21,73.98 186.72,72.96 187.25,71.93 C187.77,70.91 188.31,69.89 188.87,68.86 C189.42,67.84 189.99,66.81 190.57,65.79 C191.15,64.76 191.74,63.74 192.35,62.71 C192.96,61.69 193.58,60.66 194.22,59.64 C194.85,58.61 195.50,57.59 196.16,56.57 C196.82,55.54 197.50,54.52 198.19,53.49 C198.87,52.47 199.58,51.44 200.29,50.42 C201.01,49.39 201.74,48.37 202.48,47.34 C203.22,46.32 203.98,45.29 204.75,44.27 C205.52,43.24 206.30,42.22 207.10,41.20 C207.89,40.17 208.70,39.15 209.53,38.12 C210.35,37.10 211.19,36.07 212.04,35.05 C212.89,34.02 213.75,33.00 214.63,31.97 C215.50,30.95 216.85,29.41 217.30,28.90 C218.08,28.15 220.22,25.72 222.00,24.40 C223.78,23.08 225.00,21.62 228.00,21.00 C231.00,20.38 236.12,20.75 240.00,20.70 C243.88,20.65 249.42,20.70 251.30,20.70 L251.30,20.70 C249.42,20.70 243.88,20.65 240.00,20.70 C236.12,20.75 231.00,20.38 228.00,21.00 C225.00,21.62 223.78,23.08 222.00,24.40 C220.22,25.72 218.08,28.15 217.30,28.90 C216.92,29.40 215.76,30.91 215.01,31.91 C214.26,32.92 213.53,33.92 212.82,34.93 C212.10,35.93 211.41,36.93 210.73,37.94 C210.04,38.94 209.38,39.95 208.72,40.95 C208.07,41.96 207.43,42.96 206.81,43.97 C206.19,44.97 205.58,45.97 204.98,46.98 C204.39,47.98 203.80,48.99 203.23,49.99 C202.66,51.00 202.10,52.00 201.56,53.00 C201.01,54.01 200.48,55.01 199.95,56.02 C199.43,57.02 198.92,58.03 198.42,59.03 C197.91,60.03 197.42,61.04 196.94,62.04 C196.46,63.05 195.99,64.05 195.52,65.06 C195.06,66.06 194.60,67.07 194.16,68.07 C193.71,69.07 193.27,70.08 192.84,71.08 C192.41,72.09 191.99,73.09 191.57,74.10 C191.16,75.10 190.75,76.10 190.34,77.11 C189.94,78.11 189.54,79.12 189.15,80.12 C188.76,81.13 188.37,82.13 187.99,83.13 C187.60,84.14 187.23,85.14 186.85,86.15 C186.48,87.15 186.11,88.16 185.74,89.16 C185.37,90.17 185.01,91.17 184.65,92.17 C184.29,93.18 183.93,94.18 183.57,95.19 C183.21,96.19 182.68,97.70 182.50,98.20 C181.47,98.65 177.33,100.45 176.30,100.90 C175.99,100.94 175.04,101.06 174.42,101.15 C173.79,101.25 173.16,101.36 172.53,101.48 C171.91,101.60 171.28,101.73 170.65,101.88 C170.02,102.02 169.40,102.18 168.77,102.35 C168.14,102.52 167.51,102.70 166.89,102.89 C166.26,103.09 165.63,103.29 165.00,103.51 C164.38,103.73 163.75,103.96 163.12,104.20 C162.49,104.45 161.87,104.70 161.24,104.97 C160.61,105.24 159.98,105.51 159.36,105.81 C158.73,106.10 158.10,106.40 157.47,106.72 C156.85,107.03 156.22,107.36 155.59,107.70 C154.96,108.04 154.34,108.39 153.71,108.76 C153.08,109.12 152.45,109.50 151.83,109.89 C151.20,110.27 150.57,110.68 149.94,111.09 C149.32,111.50 148.69,111.93 148.06,112.36 C147.43,112.80 146.81,113.25 146.18,113.71 C145.55,114.17 144.92,114.65 144.30,115.13 C143.67,115.62 143.04,116.12 142.41,116.63 C141.79,117.14 141.16,117.66 140.53,118.20 C139.90,118.73 139.28,119.28 138.65,119.84 C138.02,120.40 137.39,120.97 136.77,121.55 C136.14,122.14 135.51,122.73 134.88,123.34 C134.26,123.95 133.31,124.89 133.00,125.20 Z" fill="#8fbc8f" stroke="none"/>
<path d="M121.90,125.20 C122.29,124.87 123.48,123.87 124.27,123.23 C125.05,122.59 125.84,121.96 126.63,121.34 C127.42,120.72 128.21,120.12 129.00,119.53 C129.78,118.94 130.57,118.36 131.36,117.79 C132.15,117.23 132.94,116.67 133.73,116.13 C134.51,115.60 135.30,115.07 136.09,114.55 C136.88,114.04 137.67,113.54 138.46,113.05 C139.24,112.57 140.03,112.09 140.82,111.63 C141.61,111.17 142.40,110.72 143.19,110.28 C143.98,109.85 144.76,109.42 145.55,109.01 C146.34,108.60 147.13,108.21 147.92,107.82 C148.71,107.44 149.49,107.07 150.28,106.71 C151.07,106.35 151.86,106.01 152.65,105.67 C153.44,105.34 154.22,105.02 155.01,104.72 C155.80,104.41 156.59,104.12 157.38,103.84 C158.17,103.56 158.96,103.29 159.74,103.04 C160.53,102.78 161.32,102.54 162.11,102.31 C162.90,102.08 163.69,101.87 164.47,101.67 C165.26,101.46 166.05,101.27 166.84,101.10 C167.63,100.92 168.42,100.76 169.20,100.61 C169.99,100.46 170.78,100.32 171.57,100.19 C172.36,100.07 173.15,99.96 173.93,99.86 C174.72,99.76 175.91,99.64 176.30,99.60 C176.45,99.09 176.88,97.55 177.19,96.53 C177.50,95.50 177.83,94.48 178.17,93.45 C178.50,92.43 178.86,91.40 179.22,90.38 C179.59,89.35 179.96,88.33 180.36,87.30 C180.75,86.28 181.15,85.26 181.57,84.23 C181.99,83.21 182.42,82.18 182.87,81.16 C183.32,80.13 183.78,79.11 184.25,78.08 C184.72,77.06 185.21,76.03 185.71,75.01 C186.21,73.98 186.72,72.96 187.25,71.93 C187.77,70.91 188.31,69.89 188.87,68.86 C189.42,67.84 189.99,66.81 190.57,65.79 C191.15,64.76 191.74,63.74 192.35,62.71 C192.96,61.69 193.58,60.66 194.22,59.64 C194.85,58.61 195.50,57.59 196.16,56.57 C196.82,55.54 197.50,54.52 198.19,53.49 C198.87,52.47 199.58,51.44 200.29,50.42 C201.01,49.39 201.74,48.37 202.48,47.34 C203.22,46.32 203.98,45.29 204.75,44.27 C205.52,43.24 206.30,42.22 207.10,41.20 C207.89,40.17 208.70,39.15 209.53,38.12 C210.35,37.10 211.19,36.07 212.04,35.05 C212.89,34.02 213.75,33.00 214.63,31.97 C215.50,30.95 216.85,29.41 217.30,28.90 C218.08,28.15 220.22,25.72 222.00,24.40 C223.78,23.08 225.00,21.62 228.00,21.00 C231.00,20.38 236.12,20.75 240.00,20.70 C243.88,20.65 249.42,20.70 251.30,20.70" fill="none" stroke="#008000" stroke-width="1.30" stroke-linejoin="round"/>
<path d="M133.00,125.20 C133.31,124.89 134.26,123.95 134.88,123.34 C135.51,122.73 136.14,122.14 136.77,121.55 C137.39,120.97 138.02,120.40 138.65,119.84 C139.28,119.28 139.90,118.73 140.53,118.20 C141.16,117.66 141.79,117.14 142.41,116.63 C143.04,116.12 143.67,115.62 144.30,115.13 C144.92,114.65 145.55,114.17 146.18,113.71 C146.81,113.25 147.43,112.80 148.06,112.36 C148.69,111.93 149.32,111.50 149.94,111.09 C150.57,110.68 151.20,110.27 151.83,109.89 C152.45,109.50 153.08,109.12 153.71,108.76 C154.34,108.39 154.96,108.04 155.59,107.70 C156.22,107.36 156.85,107.03 157.47,106.72 C158.10,106.40 158.73,106.10 159.36,105.81 C159.98,105.51 160.61,105.24 161.24,104.97 C161.87,104.70 162.49,104.45 163.12,104.20 C163.75,103.96 164.38,103.73 165.00,103.51 C165.63,103.29 166.26,103.09 166.89,102.89 C167.51,102.70 168.14,102.52 168.77,102.35 C169.40,102.18 170.02,102.02 170.65,101.88 C171.28,101.73 171.91,101.60 172.53,101.48 C173.16,101.36 173.79,101.25 174.42,101.15 C175.04,101.06 175.99,100.94 176.30,100.90 C177.33,100.45 181.47,98.65 182.50,98.20 C182.68,97.70 183.21,96.19 183.57,95.19 C183.93,94.18 184.29,93.18 184.65,92.17 C185.01,91.17 185.37,90.17 185.74,89.16 C186.11,88.16 186.48,87.15 186.85,86.15 C187.23,85.14 187.60,84.14 187.99,83.13 C188.37,82.13 188.76,81.13 189.15,80.12 C189.54,79.12 189.94,78.11 190.34,77.11 C190.75,76.10 191.16,75.10 191.57,74.10 C191.99,73.09 192.41,72.09 192.84,71.08 C193.27,70.08 193.71,69.07 194.16,68.07 C194.60,67.07 195.06,66.06 195.52,65.06 C195.99,64.05 196.46,63.05 196.94,62.04 C197.42,61.04 197.91,60.03 198.42,59.03 C198.92,58.03 199.43,57.02 199.95,56.02 C200.48,55.01 201.01,54.01 201.56,53.00 C202.10,52.00 202.66,51.00 203.23,49.99 C203.80,48.99 204.39,47.98 204.98,46.98 C205.58,45.97 206.19,44.97 206.81,43.97 C207.43,42.96 208.07,41.96 208.72,40.95 C209.38,39.95 210.04,38.94 210.73,37.94 C211.41,36.93 212.10,35.93 212.82,34.93 C213.53,33.92 214.26,32.92 215.01,31.91 C215.76,30.91 216.92,29.40 217.30,28.90 C218.08,28.15 220.22,25.72 222.00,24.40 C223.78,23.08 225.00,21.62 228.00,21.00 C231.00,20.38 236.12,20.75 240.00,20.70 C243.88,20.65 249.42,20.70 251.30,20.70" fill="none" stroke="#008000" stroke-width="1.30" stroke-linejoin="round"/>
<polyline points="215.2,249.5 215.8,237 216.9,213 217.2,163.9 251.3,163.9" fill="none" stroke="#000" stroke-width="1.5"/>
<path d="M153.90,263.60 C154.17,263.24 154.98,262.15 155.53,261.44 C156.07,260.73 156.61,260.04 157.15,259.35 C157.69,258.67 158.24,258.00 158.78,257.34 C159.32,256.68 159.86,256.03 160.40,255.40 C160.95,254.76 161.49,254.14 162.03,253.53 C162.57,252.92 163.11,252.32 163.66,251.73 C164.20,251.15 164.74,250.57 165.28,250.01 C165.82,249.45 166.37,248.90 166.91,248.36 C167.45,247.83 167.99,247.30 168.53,246.79 C169.08,246.27 169.62,245.77 170.16,245.28 C170.70,244.80 171.24,244.32 171.79,243.85 C172.33,243.39 172.87,242.94 173.41,242.50 C173.96,242.06 174.50,241.63 175.04,241.21 C175.58,240.80 176.12,240.40 176.67,240.00 C177.21,239.61 177.75,239.23 178.29,238.87 C178.83,238.50 179.38,238.15 179.92,237.80 C180.46,237.46 181.00,237.13 181.54,236.81 C182.09,236.49 182.63,236.19 183.17,235.89 C183.71,235.60 184.25,235.32 184.80,235.05 C185.34,234.78 185.88,234.52 186.42,234.28 C186.96,234.03 187.51,233.80 188.05,233.58 C188.59,233.36 189.13,233.15 189.67,232.95 C190.22,232.76 191.03,232.49 191.30,232.40 C191.38,231.92 191.61,230.49 191.79,229.54 C191.97,228.59 192.16,227.63 192.37,226.68 C192.57,225.72 192.79,224.77 193.02,223.82 C193.25,222.86 193.50,221.91 193.75,220.96 C194.01,220.00 194.28,219.05 194.56,218.10 C194.84,217.14 195.13,216.19 195.43,215.23 C195.74,214.28 196.05,213.33 196.38,212.37 C196.70,211.42 197.04,210.47 197.38,209.51 C197.72,208.56 198.08,207.61 198.44,206.65 C198.81,205.70 199.18,204.74 199.56,203.79 C199.94,202.84 200.34,201.88 200.73,200.93 C201.13,199.98 201.54,199.02 201.96,198.07 C202.37,197.12 202.79,196.16 203.22,195.21 C203.65,194.26 204.09,193.30 204.53,192.35 C204.97,191.39 205.42,190.44 205.87,189.49 C206.33,188.53 206.79,187.58 207.26,186.63 C207.72,185.67 208.19,184.72 208.67,183.77 C209.14,182.81 209.62,181.86 210.11,180.90 C210.59,179.95 211.08,179.00 211.57,178.04 C212.06,177.09 212.56,176.14 213.06,175.18 C213.55,174.23 214.06,173.28 214.56,172.32 C215.06,171.37 215.57,170.41 216.07,169.46 C216.58,168.51 217.35,167.08 217.60,166.60 C218.17,165.63 219.60,162.33 221.00,160.80 C222.40,159.27 223.67,157.97 226.00,157.40 C228.33,156.83 230.78,157.37 235.00,157.40 C239.22,157.43 248.58,157.57 251.30,157.60 L251.30,157.60 C248.58,157.57 239.22,157.43 235.00,157.40 C230.78,157.37 228.33,156.83 226.00,157.40 C223.67,157.97 222.40,159.27 221.00,160.80 C219.60,162.33 218.17,165.63 217.60,166.60 C217.42,167.07 216.88,168.50 216.51,169.44 C216.15,170.39 215.77,171.34 215.40,172.29 C215.02,173.23 214.64,174.18 214.26,175.13 C213.88,176.08 213.49,177.03 213.11,177.97 C212.72,178.92 212.33,179.87 211.94,180.82 C211.55,181.77 211.16,182.71 210.77,183.66 C210.38,184.61 209.99,185.56 209.60,186.50 C209.21,187.45 208.82,188.40 208.43,189.35 C208.04,190.30 207.65,191.24 207.27,192.19 C206.88,193.14 206.50,194.09 206.13,195.03 C205.75,195.98 205.37,196.93 205.00,197.88 C204.63,198.83 204.27,199.77 203.91,200.72 C203.54,201.67 203.19,202.62 202.84,203.57 C202.49,204.51 202.15,205.46 201.81,206.41 C201.48,207.36 201.15,208.30 200.82,209.25 C200.50,210.20 200.19,211.15 199.89,212.10 C199.58,213.04 199.29,213.99 199.00,214.94 C198.71,215.89 198.44,216.83 198.17,217.78 C197.91,218.73 197.65,219.68 197.41,220.63 C197.17,221.57 196.93,222.52 196.71,223.47 C196.50,224.42 196.29,225.37 196.09,226.31 C195.90,227.26 195.72,228.21 195.55,229.16 C195.39,230.10 195.18,231.53 195.10,232.00 C194.85,232.08 194.09,232.31 193.59,232.48 C193.09,232.66 192.59,232.84 192.08,233.05 C191.58,233.25 191.08,233.46 190.57,233.69 C190.07,233.92 189.57,234.16 189.07,234.42 C188.56,234.67 188.06,234.94 187.56,235.22 C187.05,235.50 186.55,235.80 186.05,236.11 C185.54,236.42 185.04,236.74 184.54,237.08 C184.04,237.41 183.53,237.76 183.03,238.13 C182.53,238.49 182.02,238.87 181.52,239.26 C181.02,239.65 180.52,240.05 180.01,240.47 C179.51,240.89 179.01,241.32 178.50,241.76 C178.00,242.21 177.50,242.67 177.00,243.14 C176.49,243.61 175.99,244.09 175.49,244.59 C174.98,245.09 174.48,245.60 173.98,246.13 C173.48,246.65 172.97,247.19 172.47,247.75 C171.97,248.30 171.46,248.86 170.96,249.44 C170.46,250.02 169.96,250.62 169.45,251.22 C168.95,251.83 168.45,252.45 167.94,253.08 C167.44,253.72 166.94,254.36 166.43,255.02 C165.93,255.68 165.43,256.36 164.93,257.05 C164.42,257.73 163.92,258.44 163.42,259.15 C162.91,259.86 162.41,260.59 161.91,261.33 C161.41,262.08 160.65,263.22 160.40,263.60 Z" fill="#ff8080" stroke="none"/>
<path d="M153.90,263.60 C154.17,263.24 154.98,262.15 155.53,261.44 C156.07,260.73 156.61,260.04 157.15,259.35 C157.69,258.67 158.24,258.00 158.78,257.34 C159.32,256.68 159.86,256.03 160.40,255.40 C160.95,254.76 161.49,254.14 162.03,253.53 C162.57,252.92 163.11,252.32 163.66,251.73 C164.20,251.15 164.74,250.57 165.28,250.01 C165.82,249.45 166.37,248.90 166.91,248.36 C167.45,247.83 167.99,247.30 168.53,246.79 C169.08,246.27 169.62,245.77 170.16,245.28 C170.70,244.80 171.24,244.32 171.79,243.85 C172.33,243.39 172.87,242.94 173.41,242.50 C173.96,242.06 174.50,241.63 175.04,241.21 C175.58,240.80 176.12,240.40 176.67,240.00 C177.21,239.61 177.75,239.23 178.29,238.87 C178.83,238.50 179.38,238.15 179.92,237.80 C180.46,237.46 181.00,237.13 181.54,236.81 C182.09,236.49 182.63,236.19 183.17,235.89 C183.71,235.60 184.25,235.32 184.80,235.05 C185.34,234.78 185.88,234.52 186.42,234.28 C186.96,234.03 187.51,233.80 188.05,233.58 C188.59,233.36 189.13,233.15 189.67,232.95 C190.22,232.76 191.03,232.49 191.30,232.40 C191.38,231.92 191.61,230.49 191.79,229.54 C191.97,228.59 192.16,227.63 192.37,226.68 C192.57,225.72 192.79,224.77 193.02,223.82 C193.25,222.86 193.50,221.91 193.75,220.96 C194.01,220.00 194.28,219.05 194.56,218.10 C194.84,217.14 195.13,216.19 195.43,215.23 C195.74,214.28 196.05,213.33 196.38,212.37 C196.70,211.42 197.04,210.47 197.38,209.51 C197.72,208.56 198.08,207.61 198.44,206.65 C198.81,205.70 199.18,204.74 199.56,203.79 C199.94,202.84 200.34,201.88 200.73,200.93 C201.13,199.98 201.54,199.02 201.96,198.07 C202.37,197.12 202.79,196.16 203.22,195.21 C203.65,194.26 204.09,193.30 204.53,192.35 C204.97,191.39 205.42,190.44 205.87,189.49 C206.33,188.53 206.79,187.58 207.26,186.63 C207.72,185.67 208.19,184.72 208.67,183.77 C209.14,182.81 209.62,181.86 210.11,180.90 C210.59,179.95 211.08,179.00 211.57,178.04 C212.06,177.09 212.56,176.14 213.06,175.18 C213.55,174.23 214.06,173.28 214.56,172.32 C215.06,171.37 215.57,170.41 216.07,169.46 C216.58,168.51 217.35,167.08 217.60,166.60 C218.17,165.63 219.60,162.33 221.00,160.80 C222.40,159.27 223.67,157.97 226.00,157.40 C228.33,156.83 230.78,157.37 235.00,157.40 C239.22,157.43 248.58,157.57 251.30,157.60" fill="none" stroke="#ff0000" stroke-width="1.10" stroke-linejoin="round"/>
<path d="M160.40,263.60 C160.65,263.22 161.41,262.08 161.91,261.33 C162.41,260.59 162.91,259.86 163.42,259.15 C163.92,258.44 164.42,257.73 164.93,257.05 C165.43,256.36 165.93,255.68 166.43,255.02 C166.94,254.36 167.44,253.72 167.94,253.08 C168.45,252.45 168.95,251.83 169.45,251.22 C169.96,250.62 170.46,250.02 170.96,249.44 C171.46,248.86 171.97,248.30 172.47,247.75 C172.97,247.19 173.48,246.65 173.98,246.13 C174.48,245.60 174.98,245.09 175.49,244.59 C175.99,244.09 176.49,243.61 177.00,243.14 C177.50,242.67 178.00,242.21 178.50,241.76 C179.01,241.32 179.51,240.89 180.01,240.47 C180.52,240.05 181.02,239.65 181.52,239.26 C182.02,238.87 182.53,238.49 183.03,238.13 C183.53,237.76 184.04,237.41 184.54,237.08 C185.04,236.74 185.54,236.42 186.05,236.11 C186.55,235.80 187.05,235.50 187.56,235.22 C188.06,234.94 188.56,234.67 189.07,234.42 C189.57,234.16 190.07,233.92 190.57,233.69 C191.08,233.46 191.58,233.25 192.08,233.05 C192.59,232.84 193.09,232.66 193.59,232.48 C194.09,232.31 194.85,232.08 195.10,232.00 C195.18,231.53 195.39,230.10 195.55,229.16 C195.72,228.21 195.90,227.26 196.09,226.31 C196.29,225.37 196.50,224.42 196.71,223.47 C196.93,222.52 197.17,221.57 197.41,220.63 C197.65,219.68 197.91,218.73 198.17,217.78 C198.44,216.83 198.71,215.89 199.00,214.94 C199.29,213.99 199.58,213.04 199.89,212.10 C200.19,211.15 200.50,210.20 200.82,209.25 C201.15,208.30 201.48,207.36 201.81,206.41 C202.15,205.46 202.49,204.51 202.84,203.57 C203.19,202.62 203.54,201.67 203.91,200.72 C204.27,199.77 204.63,198.83 205.00,197.88 C205.37,196.93 205.75,195.98 206.13,195.03 C206.50,194.09 206.88,193.14 207.27,192.19 C207.65,191.24 208.04,190.30 208.43,189.35 C208.82,188.40 209.21,187.45 209.60,186.50 C209.99,185.56 210.38,184.61 210.77,183.66 C211.16,182.71 211.55,181.77 211.94,180.82 C212.33,179.87 212.72,178.92 213.11,177.97 C213.49,177.03 213.88,176.08 214.26,175.13 C214.64,174.18 215.02,173.23 215.40,172.29 C215.77,171.34 216.15,170.39 216.51,169.44 C216.88,168.50 217.42,167.07 217.60,166.60 C218.17,165.63 219.60,162.33 221.00,160.80 C222.40,159.27 223.67,157.97 226.00,157.40 C228.33,156.83 230.78,157.37 235.00,157.40 C239.22,157.43 248.58,157.57 251.30,157.60" fill="none" stroke="#ff0000" stroke-width="1.10" stroke-linejoin="round"/>
<path d="M97.50,263.60 C97.97,263.35 99.36,262.58 100.29,262.08 C101.22,261.58 102.15,261.09 103.08,260.60 C104.01,260.12 104.94,259.64 105.87,259.17 C106.80,258.70 107.73,258.24 108.67,257.78 C109.60,257.33 110.53,256.88 111.46,256.44 C112.39,256.00 113.32,255.57 114.25,255.14 C115.18,254.72 116.11,254.30 117.04,253.89 C117.97,253.48 118.90,253.08 119.83,252.69 C120.76,252.29 121.69,251.90 122.62,251.52 C123.55,251.14 124.48,250.77 125.41,250.41 C126.34,250.04 127.27,249.69 128.20,249.34 C129.13,248.99 130.07,248.64 131.00,248.31 C131.93,247.98 132.86,247.65 133.79,247.33 C134.72,247.01 135.65,246.70 136.58,246.39 C137.51,246.09 138.44,245.79 139.37,245.50 C140.30,245.21 141.23,244.93 142.16,244.66 C143.09,244.38 144.02,244.12 144.95,243.86 C145.88,243.60 146.81,243.35 147.74,243.10 C148.67,242.86 149.60,242.62 150.53,242.39 C151.47,242.16 152.40,241.94 153.33,241.73 C154.26,241.51 155.19,241.30 156.12,241.11 C157.05,240.91 157.98,240.71 158.91,240.53 C159.84,240.35 161.23,240.09 161.70,240.00 C161.99,239.47 162.87,237.87 163.44,236.81 C164.02,235.74 164.59,234.68 165.16,233.62 C165.73,232.55 166.30,231.49 166.87,230.43 C167.44,229.36 168.01,228.30 168.59,227.23 C169.16,226.17 169.73,225.11 170.31,224.04 C170.89,222.98 171.48,221.92 172.07,220.85 C172.66,219.79 173.25,218.72 173.86,217.66 C174.46,216.60 175.07,215.53 175.70,214.47 C176.32,213.41 176.96,212.34 177.60,211.28 C178.25,210.21 178.91,209.15 179.58,208.09 C180.26,207.02 180.94,205.96 181.65,204.90 C182.35,203.83 183.07,202.77 183.81,201.70 C184.55,200.64 185.31,199.58 186.09,198.51 C186.87,197.45 187.67,196.39 188.49,195.32 C189.31,194.26 190.15,193.19 191.02,192.13 C191.89,191.07 192.78,190.00 193.70,188.94 C194.62,187.88 195.57,186.81 196.54,185.75 C197.52,184.68 198.52,183.62 199.55,182.56 C200.59,181.49 201.65,180.43 202.75,179.37 C203.84,178.30 204.97,177.24 206.14,176.17 C207.30,175.11 208.50,174.05 209.73,172.98 C210.97,171.92 212.24,170.86 213.55,169.79 C214.86,168.73 216.93,167.13 217.60,166.60 C218.50,165.75 221.03,162.77 223.00,161.50 C224.97,160.23 226.57,159.53 229.40,159.00 C232.23,158.47 236.35,158.50 240.00,158.30 C243.65,158.10 249.42,157.88 251.30,157.80 L251.30,157.80 C249.42,157.88 243.65,158.10 240.00,158.30 C236.35,158.50 232.23,158.47 229.40,159.00 C226.57,159.53 224.97,160.23 223.00,161.50 C221.03,162.77 218.50,165.75 217.60,166.60 C217.02,167.13 215.23,168.74 214.11,169.80 C212.98,170.87 211.90,171.94 210.85,173.01 C209.80,174.08 208.79,175.14 207.82,176.21 C206.84,177.28 205.90,178.35 204.99,179.42 C204.08,180.49 203.20,181.55 202.35,182.62 C201.50,183.69 200.68,184.76 199.89,185.83 C199.09,186.89 198.33,187.96 197.58,189.03 C196.84,190.10 196.12,191.17 195.43,192.23 C194.73,193.30 194.05,194.37 193.40,195.44 C192.74,196.51 192.10,197.58 191.48,198.64 C190.86,199.71 190.26,200.78 189.67,201.85 C189.07,202.92 188.50,203.98 187.93,205.05 C187.37,206.12 186.82,207.19 186.27,208.26 C185.72,209.32 185.19,210.39 184.66,211.46 C184.13,212.53 183.60,213.60 183.08,214.67 C182.56,215.73 182.05,216.80 181.53,217.87 C181.02,218.94 180.50,220.01 179.99,221.07 C179.47,222.14 178.95,223.21 178.43,224.28 C177.91,225.35 177.39,226.41 176.86,227.48 C176.32,228.55 175.79,229.62 175.24,230.69 C174.69,231.76 174.14,232.82 173.57,233.89 C173.00,234.96 172.42,236.03 171.83,237.10 C171.23,238.16 170.30,239.77 170.00,240.30 C169.56,240.40 168.23,240.68 167.35,240.88 C166.46,241.08 165.58,241.28 164.70,241.49 C163.81,241.71 162.93,241.93 162.04,242.15 C161.16,242.38 160.28,242.61 159.39,242.85 C158.51,243.09 157.62,243.33 156.74,243.58 C155.86,243.83 154.97,244.09 154.09,244.36 C153.20,244.62 152.32,244.89 151.43,245.17 C150.55,245.45 149.67,245.74 148.78,246.03 C147.90,246.32 147.01,246.62 146.13,246.92 C145.25,247.23 144.36,247.54 143.48,247.86 C142.59,248.17 141.71,248.50 140.83,248.83 C139.94,249.16 139.06,249.50 138.17,249.84 C137.29,250.19 136.41,250.54 135.52,250.89 C134.64,251.25 133.75,251.62 132.87,251.99 C131.99,252.36 131.10,252.73 130.22,253.12 C129.33,253.50 128.45,253.89 127.57,254.29 C126.68,254.69 125.80,255.09 124.91,255.50 C124.03,255.91 123.14,256.33 122.26,256.75 C121.38,257.18 120.49,257.61 119.61,258.04 C118.72,258.48 117.84,258.92 116.96,259.37 C116.07,259.82 115.19,260.28 114.30,260.74 C113.42,261.21 112.54,261.67 111.65,262.15 C110.77,262.63 109.44,263.36 109.00,263.60 Z" fill="#8080ff" stroke="none"/>
<path d="M97.50,263.60 C97.97,263.35 99.36,262.58 100.29,262.08 C101.22,261.58 102.15,261.09 103.08,260.60 C104.01,260.12 104.94,259.64 105.87,259.17 C106.80,258.70 107.73,258.24 108.67,257.78 C109.60,257.33 110.53,256.88 111.46,256.44 C112.39,256.00 113.32,255.57 114.25,255.14 C115.18,254.72 116.11,254.30 117.04,253.89 C117.97,253.48 118.90,253.08 119.83,252.69 C120.76,252.29 121.69,251.90 122.62,251.52 C123.55,251.14 124.48,250.77 125.41,250.41 C126.34,250.04 127.27,249.69 128.20,249.34 C129.13,248.99 130.07,248.64 131.00,248.31 C131.93,247.98 132.86,247.65 133.79,247.33 C134.72,247.01 135.65,246.70 136.58,246.39 C137.51,246.09 138.44,245.79 139.37,245.50 C140.30,245.21 141.23,244.93 142.16,244.66 C143.09,244.38 144.02,244.12 144.95,243.86 C145.88,243.60 146.81,243.35 147.74,243.10 C148.67,242.86 149.60,242.62 150.53,242.39 C151.47,242.16 152.40,241.94 153.33,241.73 C154.26,241.51 155.19,241.30 156.12,241.11 C157.05,240.91 157.98,240.71 158.91,240.53 C159.84,240.35 161.23,240.09 161.70,240.00 C161.99,239.47 162.87,237.87 163.44,236.81 C164.02,235.74 164.59,234.68 165.16,233.62 C165.73,232.55 166.30,231.49 166.87,230.43 C167.44,229.36 168.01,228.30 168.59,227.23 C169.16,226.17 169.73,225.11 170.31,224.04 C170.89,222.98 171.48,221.92 172.07,220.85 C172.66,219.79 173.25,218.72 173.86,217.66 C174.46,216.60 175.07,215.53 175.70,214.47 C176.32,213.41 176.96,212.34 177.60,211.28 C178.25,210.21 178.91,209.15 179.58,208.09 C180.26,207.02 180.94,205.96 181.65,204.90 C182.35,203.83 183.07,202.77 183.81,201.70 C184.55,200.64 185.31,199.58 186.09,198.51 C186.87,197.45 187.67,196.39 188.49,195.32 C189.31,194.26 190.15,193.19 191.02,192.13 C191.89,191.07 192.78,190.00 193.70,188.94 C194.62,187.88 195.57,186.81 196.54,185.75 C197.52,184.68 198.52,183.62 199.55,182.56 C200.59,181.49 201.65,180.43 202.75,179.37 C203.84,178.30 204.97,177.24 206.14,176.17 C207.30,175.11 208.50,174.05 209.73,172.98 C210.97,171.92 212.24,170.86 213.55,169.79 C214.86,168.73 216.93,167.13 217.60,166.60 C218.50,165.75 221.03,162.77 223.00,161.50 C224.97,160.23 226.57,159.53 229.40,159.00 C232.23,158.47 236.35,158.50 240.00,158.30 C243.65,158.10 249.42,157.88 251.30,157.80" fill="none" stroke="#0000ff" stroke-width="1.30" stroke-linejoin="round"/>
<path d="M109.00,263.60 C109.44,263.36 110.77,262.63 111.65,262.15 C112.54,261.67 113.42,261.21 114.30,260.74 C115.19,260.28 116.07,259.82 116.96,259.37 C117.84,258.92 118.72,258.48 119.61,258.04 C120.49,257.61 121.38,257.18 122.26,256.75 C123.14,256.33 124.03,255.91 124.91,255.50 C125.80,255.09 126.68,254.69 127.57,254.29 C128.45,253.89 129.33,253.50 130.22,253.12 C131.10,252.73 131.99,252.36 132.87,251.99 C133.75,251.62 134.64,251.25 135.52,250.89 C136.41,250.54 137.29,250.19 138.17,249.84 C139.06,249.50 139.94,249.16 140.83,248.83 C141.71,248.50 142.59,248.17 143.48,247.86 C144.36,247.54 145.25,247.23 146.13,246.92 C147.01,246.62 147.90,246.32 148.78,246.03 C149.67,245.74 150.55,245.45 151.43,245.17 C152.32,244.89 153.20,244.62 154.09,244.36 C154.97,244.09 155.86,243.83 156.74,243.58 C157.62,243.33 158.51,243.09 159.39,242.85 C160.28,242.61 161.16,242.38 162.04,242.15 C162.93,241.93 163.81,241.71 164.70,241.49 C165.58,241.28 166.46,241.08 167.35,240.88 C168.23,240.68 169.56,240.40 170.00,240.30 C170.30,239.77 171.23,238.16 171.83,237.10 C172.42,236.03 173.00,234.96 173.57,233.89 C174.14,232.82 174.69,231.76 175.24,230.69 C175.79,229.62 176.32,228.55 176.86,227.48 C177.39,226.41 177.91,225.35 178.43,224.28 C178.95,223.21 179.47,222.14 179.99,221.07 C180.50,220.01 181.02,218.94 181.53,217.87 C182.05,216.80 182.56,215.73 183.08,214.67 C183.60,213.60 184.13,212.53 184.66,211.46 C185.19,210.39 185.72,209.32 186.27,208.26 C186.82,207.19 187.37,206.12 187.93,205.05 C188.50,203.98 189.07,202.92 189.67,201.85 C190.26,200.78 190.86,199.71 191.48,198.64 C192.10,197.58 192.74,196.51 193.40,195.44 C194.05,194.37 194.73,193.30 195.43,192.23 C196.12,191.17 196.84,190.10 197.58,189.03 C198.33,187.96 199.09,186.89 199.89,185.83 C200.68,184.76 201.50,183.69 202.35,182.62 C203.20,181.55 204.08,180.49 204.99,179.42 C205.90,178.35 206.84,177.28 207.82,176.21 C208.79,175.14 209.80,174.08 210.85,173.01 C211.90,171.94 212.98,170.87 214.11,169.80 C215.23,168.74 217.02,167.13 217.60,166.60 C218.50,165.75 221.03,162.77 223.00,161.50 C224.97,160.23 226.57,159.53 229.40,159.00 C232.23,158.47 236.35,158.50 240.00,158.30 C243.65,158.10 249.42,157.88 251.30,157.80" fill="none" stroke="#0000ff" stroke-width="1.30" stroke-linejoin="round"/>
<path d="M56.40,263.60 C56.98,263.35 58.72,262.59 59.88,262.10 C61.04,261.61 62.20,261.13 63.37,260.66 C64.53,260.19 65.69,259.73 66.85,259.28 C68.01,258.83 69.17,258.39 70.33,257.96 C71.49,257.53 72.65,257.11 73.81,256.70 C74.97,256.29 76.13,255.89 77.30,255.50 C78.46,255.11 79.62,254.73 80.78,254.36 C81.94,253.99 83.10,253.62 84.26,253.27 C85.42,252.92 86.58,252.58 87.74,252.25 C88.90,251.92 90.07,251.60 91.23,251.29 C92.39,250.98 93.55,250.68 94.71,250.39 C95.87,250.09 97.03,249.81 98.19,249.54 C99.35,249.27 100.51,249.01 101.67,248.76 C102.83,248.51 104.00,248.27 105.16,248.03 C106.32,247.80 107.48,247.58 108.64,247.37 C109.80,247.16 110.96,246.96 112.12,246.76 C113.28,246.57 114.44,246.39 115.60,246.22 C116.77,246.05 117.93,245.89 119.09,245.73 C120.25,245.58 121.41,245.44 122.57,245.31 C123.73,245.18 124.89,245.05 126.05,244.94 C127.21,244.83 128.37,244.73 129.53,244.63 C130.70,244.54 131.86,244.46 133.02,244.39 C134.18,244.32 135.92,244.23 136.50,244.20 C137.04,243.64 138.69,241.95 139.75,240.83 C140.80,239.70 141.83,238.58 142.85,237.45 C143.86,236.33 144.85,235.20 145.83,234.08 C146.80,232.95 147.76,231.83 148.71,230.70 C149.66,229.58 150.59,228.46 151.52,227.33 C152.45,226.21 153.37,225.08 154.28,223.96 C155.20,222.83 156.11,221.71 157.02,220.58 C157.94,219.46 158.85,218.33 159.77,217.21 C160.68,216.08 161.60,214.96 162.53,213.83 C163.46,212.71 164.40,211.59 165.35,210.46 C166.30,209.34 167.26,208.21 168.24,207.09 C169.22,205.96 170.21,204.84 171.23,203.71 C172.25,202.59 173.28,201.46 174.34,200.34 C175.40,199.21 176.49,198.09 177.60,196.97 C178.72,195.84 179.86,194.72 181.03,193.59 C182.21,192.47 183.41,191.34 184.66,190.22 C185.91,189.09 187.19,187.97 188.51,186.84 C189.83,185.72 191.19,184.59 192.60,183.47 C194.01,182.34 195.46,181.22 196.97,180.10 C198.47,178.97 200.02,177.85 201.62,176.72 C203.23,175.60 204.88,174.47 206.60,173.35 C208.31,172.22 210.08,171.10 211.92,169.97 C213.75,168.85 216.65,167.16 217.60,166.60 C218.83,165.92 222.40,163.50 225.00,162.50 C227.60,161.50 230.37,161.13 233.20,160.60 C236.03,160.07 238.98,159.73 242.00,159.30 C245.02,158.87 249.75,158.22 251.30,158.00 L251.30,158.00 C249.75,158.22 245.02,158.87 242.00,159.30 C238.98,159.73 236.03,160.07 233.20,160.60 C230.37,161.13 227.60,161.50 225.00,162.50 C222.40,163.50 218.83,165.92 217.60,166.60 C216.94,167.16 214.95,168.83 213.66,169.94 C212.36,171.05 211.08,172.17 209.81,173.28 C208.55,174.39 207.30,175.50 206.07,176.62 C204.84,177.73 203.62,178.84 202.42,179.96 C201.22,181.07 200.04,182.18 198.87,183.30 C197.70,184.41 196.55,185.52 195.41,186.63 C194.28,187.75 193.15,188.86 192.05,189.97 C190.94,191.09 189.85,192.20 188.77,193.31 C187.70,194.43 186.64,195.54 185.59,196.65 C184.54,197.77 183.51,198.88 182.49,199.99 C181.47,201.10 180.47,202.22 179.48,203.33 C178.49,204.44 177.51,205.56 176.55,206.67 C175.59,207.78 174.64,208.90 173.71,210.01 C172.77,211.12 171.85,212.23 170.95,213.35 C170.04,214.46 169.14,215.57 168.26,216.69 C167.38,217.80 166.51,218.91 165.66,220.03 C164.80,221.14 163.96,222.25 163.13,223.37 C162.30,224.48 161.49,225.59 160.68,226.70 C159.88,227.82 159.08,228.93 158.30,230.04 C157.52,231.16 156.75,232.27 156.00,233.38 C155.24,234.50 154.50,235.61 153.76,236.72 C153.03,237.83 152.31,238.95 151.60,240.06 C150.89,241.17 149.85,242.84 149.50,243.40 C148.95,243.44 147.31,243.53 146.22,243.61 C145.12,243.69 144.03,243.78 142.93,243.88 C141.84,243.98 140.75,244.09 139.65,244.21 C138.56,244.33 137.46,244.46 136.37,244.60 C135.28,244.75 134.18,244.90 133.09,245.06 C131.99,245.22 130.90,245.39 129.80,245.57 C128.71,245.75 127.62,245.94 126.52,246.15 C125.43,246.35 124.33,246.56 123.24,246.78 C122.14,247.00 121.05,247.24 119.96,247.48 C118.86,247.72 117.77,247.97 116.67,248.23 C115.58,248.50 114.49,248.77 113.39,249.05 C112.30,249.33 111.20,249.63 110.11,249.93 C109.01,250.23 107.92,250.55 106.83,250.87 C105.73,251.19 104.64,251.53 103.54,251.87 C102.45,252.21 101.36,252.57 100.26,252.93 C99.17,253.29 98.07,253.67 96.98,254.05 C95.88,254.43 94.79,254.83 93.70,255.23 C92.60,255.64 91.51,256.05 90.41,256.48 C89.32,256.90 88.22,257.33 87.13,257.78 C86.04,258.22 84.94,258.68 83.85,259.14 C82.75,259.61 81.66,260.08 80.57,260.57 C79.47,261.05 78.38,261.55 77.28,262.05 C76.19,262.56 74.55,263.34 74.00,263.60 Z" fill="#8fbc8f" stroke="none"/>
<path d="M56.40,263.60 C56.98,263.35 58.72,262.59 59.88,262.10 C61.04,261.61 62.20,261.13 63.37,260.66 C64.53,260.19 65.69,259.73 66.85,259.28 C68.01,258.83 69.17,258.39 70.33,257.96 C71.49,257.53 72.65,257.11 73.81,256.70 C74.97,256.29 76.13,255.89 77.30,255.50 C78.46,255.11 79.62,254.73 80.78,254.36 C81.94,253.99 83.10,253.62 84.26,253.27 C85.42,252.92 86.58,252.58 87.74,252.25 C88.90,251.92 90.07,251.60 91.23,251.29 C92.39,250.98 93.55,250.68 94.71,250.39 C95.87,250.09 97.03,249.81 98.19,249.54 C99.35,249.27 100.51,249.01 101.67,248.76 C102.83,248.51 104.00,248.27 105.16,248.03 C106.32,247.80 107.48,247.58 108.64,247.37 C109.80,247.16 110.96,246.96 112.12,246.76 C113.28,246.57 114.44,246.39 115.60,246.22 C116.77,246.05 117.93,245.89 119.09,245.73 C120.25,245.58 121.41,245.44 122.57,245.31 C123.73,245.18 124.89,245.05 126.05,244.94 C127.21,244.83 128.37,244.73 129.53,244.63 C130.70,244.54 131.86,244.46 133.02,244.39 C134.18,244.32 135.92,244.23 136.50,244.20 C137.04,243.64 138.69,241.95 139.75,240.83 C140.80,239.70 141.83,238.58 142.85,237.45 C143.86,236.33 144.85,235.20 145.83,234.08 C146.80,232.95 147.76,231.83 148.71,230.70 C149.66,229.58 150.59,228.46 151.52,227.33 C152.45,226.21 153.37,225.08 154.28,223.96 C155.20,222.83 156.11,221.71 157.02,220.58 C157.94,219.46 158.85,218.33 159.77,217.21 C160.68,216.08 161.60,214.96 162.53,213.83 C163.46,212.71 164.40,211.59 165.35,210.46 C166.30,209.34 167.26,208.21 168.24,207.09 C169.22,205.96 170.21,204.84 171.23,203.71 C172.25,202.59 173.28,201.46 174.34,200.34 C175.40,199.21 176.49,198.09 177.60,196.97 C178.72,195.84 179.86,194.72 181.03,193.59 C182.21,192.47 183.41,191.34 184.66,190.22 C185.91,189.09 187.19,187.97 188.51,186.84 C189.83,185.72 191.19,184.59 192.60,183.47 C194.01,182.34 195.46,181.22 196.97,180.10 C198.47,178.97 200.02,177.85 201.62,176.72 C203.23,175.60 204.88,174.47 206.60,173.35 C208.31,172.22 210.08,171.10 211.92,169.97 C213.75,168.85 216.65,167.16 217.60,166.60 C218.83,165.92 222.40,163.50 225.00,162.50 C227.60,161.50 230.37,161.13 233.20,160.60 C236.03,160.07 238.98,159.73 242.00,159.30 C245.02,158.87 249.75,158.22 251.30,158.00" fill="none" stroke="#008000" stroke-width="1.30" stroke-linejoin="round"/>
<path d="M74.00,263.60 C74.55,263.34 76.19,262.56 77.28,262.05 C78.38,261.55 79.47,261.05 80.57,260.57 C81.66,260.08 82.75,259.61 83.85,259.14 C84.94,258.68 86.04,258.22 87.13,257.78 C88.22,257.33 89.32,256.90 90.41,256.48 C91.51,256.05 92.60,255.64 93.70,255.23 C94.79,254.83 95.88,254.43 96.98,254.05 C98.07,253.67 99.17,253.29 100.26,252.93 C101.36,252.57 102.45,252.21 103.54,251.87 C104.64,251.53 105.73,251.19 106.83,250.87 C107.92,250.55 109.01,250.23 110.11,249.93 C111.20,249.63 112.30,249.33 113.39,249.05 C114.49,248.77 115.58,248.50 116.67,248.23 C117.77,247.97 118.86,247.72 119.96,247.48 C121.05,247.24 122.14,247.00 123.24,246.78 C124.33,246.56 125.43,246.35 126.52,246.15 C127.62,245.94 128.71,245.75 129.80,245.57 C130.90,245.39 131.99,245.22 133.09,245.06 C134.18,244.90 135.28,244.75 136.37,244.60 C137.46,244.46 138.56,244.33 139.65,244.21 C140.75,244.09 141.84,243.98 142.93,243.88 C144.03,243.78 145.12,243.69 146.22,243.61 C147.31,243.53 148.95,243.44 149.50,243.40 C149.85,242.84 150.89,241.17 151.60,240.06 C152.31,238.95 153.03,237.83 153.76,236.72 C154.50,235.61 155.24,234.50 156.00,233.38 C156.75,232.27 157.52,231.16 158.30,230.04 C159.08,228.93 159.88,227.82 160.68,226.70 C161.49,225.59 162.30,224.48 163.13,223.37 C163.96,222.25 164.80,221.14 165.66,220.03 C166.51,218.91 167.38,217.80 168.26,216.69 C169.14,215.57 170.04,214.46 170.95,213.35 C171.85,212.23 172.77,211.12 173.71,210.01 C174.64,208.90 175.59,207.78 176.55,206.67 C177.51,205.56 178.49,204.44 179.48,203.33 C180.47,202.22 181.47,201.10 182.49,199.99 C183.51,198.88 184.54,197.77 185.59,196.65 C186.64,195.54 187.70,194.43 188.77,193.31 C189.85,192.20 190.94,191.09 192.05,189.97 C193.15,188.86 194.28,187.75 195.41,186.63 C196.55,185.52 197.70,184.41 198.87,183.30 C200.04,182.18 201.22,181.07 202.42,179.96 C203.62,178.84 204.84,177.73 206.07,176.62 C207.30,175.50 208.55,174.39 209.81,173.28 C211.08,172.17 212.36,171.05 213.66,169.94 C214.95,168.83 216.94,167.16 217.60,166.60 C218.83,165.92 222.40,163.50 225.00,162.50 C227.60,161.50 230.37,161.13 233.20,160.60 C236.03,160.07 238.98,159.73 242.00,159.30 C245.02,158.87 249.75,158.22 251.30,158.00" fill="none" stroke="#008000" stroke-width="1.30" stroke-linejoin="round"/>
</g>
<rect x="54.4" y="13.50" width="83.9" height="60.30" fill="#fff" stroke="#000" stroke-width="1.2"/>
<line x1="56.5" y1="22.00" x2="79" y2="22.00" stroke="#000" stroke-width="1.3"/>
<g transform="translate(83,26.00) scale(1,1.08)"><text x="0" y="0" font-size="11.3" class="t"><tspan font-style="italic">t</tspan><tspan font-size="7.5" dy="3.6" font-style="italic">h</tspan><tspan dy="-3.6"> = 20 ps</tspan></text></g>
<line x1="56.5" y1="36.40" x2="79" y2="36.40" stroke="#ff5050" stroke-width="1.3"/>
<g transform="translate(83,40.40) scale(1,1.08)"><text x="0" y="0" font-size="11.3" class="t"><tspan font-style="italic">t</tspan><tspan font-size="7.5" dy="3.6" font-style="italic">h</tspan><tspan dy="-3.6"> = 80 ps</tspan></text></g>
<line x1="56.5" y1="50.90" x2="79" y2="50.90" stroke="#2a2aff" stroke-width="1.3"/>
<g transform="translate(83,54.90) scale(1,1.08)"><text x="0" y="0" font-size="11.3" class="t"><tspan font-style="italic">t</tspan><tspan font-size="7.5" dy="3.6" font-style="italic">h</tspan><tspan dy="-3.6"> = 120<tspan dx="-1.5"> </tspan>ps</tspan></text></g>
<line x1="56.5" y1="65.20" x2="79" y2="65.20" stroke="#2ee22e" stroke-width="1.3"/>
<g transform="translate(83,69.20) scale(1,1.08)"><text x="0" y="0" font-size="11.3" class="t"><tspan font-style="italic">t</tspan><tspan font-size="7.5" dy="3.6" font-style="italic">h</tspan><tspan dy="-3.6"> = 150<tspan dx="-1.5"> </tspan>ps</tspan></text></g>
<rect x="54.4" y="149.20" width="83.9" height="60.40" fill="#fff" stroke="#000" stroke-width="1.2"/>
<line x1="56.5" y1="158.70" x2="79" y2="158.70" stroke="#000" stroke-width="1.3"/>
<g transform="translate(83,162.70) scale(1,1.08)"><text x="0" y="0" font-size="11.3" class="t"><tspan font-style="italic">t</tspan><tspan font-size="7.5" dy="3.6" font-style="italic">h</tspan><tspan dy="-3.6"> = 20 ps</tspan></text></g>
<line x1="56.5" y1="172.90" x2="79" y2="172.90" stroke="#ff5050" stroke-width="1.3"/>
<g transform="translate(83,176.90) scale(1,1.08)"><text x="0" y="0" font-size="11.3" class="t"><tspan font-style="italic">t</tspan><tspan font-size="7.5" dy="3.6" font-style="italic">h</tspan><tspan dy="-3.6"> = 80 ps</tspan></text></g>
<line x1="56.5" y1="187.40" x2="79" y2="187.40" stroke="#2a2aff" stroke-width="1.3"/>
<g transform="translate(83,191.40) scale(1,1.08)"><text x="0" y="0" font-size="11.3" class="t"><tspan font-style="italic">t</tspan><tspan font-size="7.5" dy="3.6" font-style="italic">h</tspan><tspan dy="-3.6"> = 120<tspan dx="-1.5"> </tspan>ps</tspan></text></g>
<line x1="56.5" y1="201.20" x2="79" y2="201.20" stroke="#2ee22e" stroke-width="1.3"/>
<g transform="translate(83,205.20) scale(1,1.08)"><text x="0" y="0" font-size="11.3" class="t"><tspan font-style="italic">t</tspan><tspan font-size="7.5" dy="3.6" font-style="italic">h</tspan><tspan dy="-3.6"> = 150<tspan dx="-1.5"> </tspan>ps</tspan></text></g>
<text x="143.5" y="22.6" font-size="14.6" class="t2"><tspan font-style="italic">L</tspan> = 1.2 mm</text>
<text x="144" y="160.3" font-size="14.6" class="t2"><tspan font-style="italic">L</tspan> = 0.7 mm</text>
<text x="56.8" y="113.4" font-size="18.2" class="t2">(a)</text>
<text x="56.4" y="233.2" font-size="18.2" class="t2">(b)</text>
<text x="260.5" y="36.2" font-size="18.2" class="t2">(c)</text>
<rect x="301.00" y="46.00" width="231.20" height="170.60" fill="none" stroke="#1a1a1a" stroke-width="1.5"/>
<line x1="310.63" y1="216.60" x2="310.63" y2="214.40" stroke="#1a1a1a" stroke-width="1"/>
<line x1="310.63" y1="46.00" x2="310.63" y2="48.20" stroke="#1a1a1a" stroke-width="1"/>
<text x="310.63" y="232.7" font-size="12.6" text-anchor="middle" class="t">40</text>
<line x1="349.17" y1="216.60" x2="349.17" y2="214.40" stroke="#1a1a1a" stroke-width="1"/>
<line x1="349.17" y1="46.00" x2="349.17" y2="48.20" stroke="#1a1a1a" stroke-width="1"/>
<text x="349.17" y="232.7" font-size="12.6" text-anchor="middle" class="t">60</text>
<line x1="387.70" y1="216.60" x2="387.70" y2="214.40" stroke="#1a1a1a" stroke-width="1"/>
<line x1="387.70" y1="46.00" x2="387.70" y2="48.20" stroke="#1a1a1a" stroke-width="1"/>
<text x="387.70" y="232.7" font-size="12.6" text-anchor="middle" class="t">80</text>
<line x1="426.23" y1="216.60" x2="426.23" y2="214.40" stroke="#1a1a1a" stroke-width="1"/>
<line x1="426.23" y1="46.00" x2="426.23" y2="48.20" stroke="#1a1a1a" stroke-width="1"/>
<text x="426.23" y="232.7" font-size="12.6" text-anchor="middle" class="t">100</text>
<line x1="464.77" y1="216.60" x2="464.77" y2="214.40" stroke="#1a1a1a" stroke-width="1"/>
<line x1="464.77" y1="46.00" x2="464.77" y2="48.20" stroke="#1a1a1a" stroke-width="1"/>
<text x="464.77" y="232.7" font-size="12.6" text-anchor="middle" class="t">120</text>
<line x1="503.30" y1="216.60" x2="503.30" y2="214.40" stroke="#1a1a1a" stroke-width="1"/>
<line x1="503.30" y1="46.00" x2="503.30" y2="48.20" stroke="#1a1a1a" stroke-width="1"/>
<text x="503.30" y="232.7" font-size="12.6" text-anchor="middle" class="t">140</text>
<line x1="301.00" y1="216.60" x2="303.20" y2="216.60" stroke="#1a1a1a" stroke-width="1"/>
<line x1="532.20" y1="216.60" x2="530.00" y2="216.60" stroke="#1a1a1a" stroke-width="1"/>
<text x="296.2" y="221.00" font-size="12.6" text-anchor="end" class="t">0</text>
<line x1="301.00" y1="182.48" x2="303.20" y2="182.48" stroke="#1a1a1a" stroke-width="1"/>
<line x1="532.20" y1="182.48" x2="530.00" y2="182.48" stroke="#1a1a1a" stroke-width="1"/>
<text x="296.2" y="186.88" font-size="12.6" text-anchor="end" class="t">1</text>
<line x1="301.00" y1="148.36" x2="303.20" y2="148.36" stroke="#1a1a1a" stroke-width="1"/>
<line x1="532.20" y1="148.36" x2="530.00" y2="148.36" stroke="#1a1a1a" stroke-width="1"/>
<text x="296.2" y="152.76" font-size="12.6" text-anchor="end" class="t">2</text>
<line x1="301.00" y1="114.24" x2="303.20" y2="114.24" stroke="#1a1a1a" stroke-width="1"/>
<line x1="532.20" y1="114.24" x2="530.00" y2="114.24" stroke="#1a1a1a" stroke-width="1"/>
<text x="296.2" y="118.64" font-size="12.6" text-anchor="end" class="t">3</text>
<line x1="301.00" y1="80.12" x2="303.20" y2="80.12" stroke="#1a1a1a" stroke-width="1"/>
<line x1="532.20" y1="80.12" x2="530.00" y2="80.12" stroke="#1a1a1a" stroke-width="1"/>
<text x="296.2" y="84.52" font-size="12.6" text-anchor="end" class="t">4</text>
<line x1="301.00" y1="46.00" x2="303.20" y2="46.00" stroke="#1a1a1a" stroke-width="1"/>
<line x1="532.20" y1="46.00" x2="530.00" y2="46.00" stroke="#1a1a1a" stroke-width="1"/>
<text x="296.2" y="50.40" font-size="12.6" text-anchor="end" class="t">5</text>
<text x="416.6" y="250" font-size="14.0" text-anchor="middle" class="t2">Heating time (ps)</text>
<g transform="translate(283.6,133) rotate(-90) scale(1,0.88)"><text x="0" y="0" font-size="14.4" text-anchor="middle" class="t2">Plasma scale-length (<tspan font-style="italic">&#956;</tspan>m)</text></g>
<line x1="309.5" y1="210.0" x2="522.6" y2="87.1" stroke="#ff0000" stroke-width="1.4" stroke-dasharray="5.2,3.6"/>
<line x1="307.5" y1="210.6" x2="522" y2="142.8" stroke="#0000ff" stroke-width="1.4" stroke-dasharray="5.2,3.6"/>
<circle cx="310.63" cy="203.40" r="2.8" fill="#f03a18"/>
<circle cx="329.90" cy="190.80" r="2.8" fill="#f03a18"/>
<circle cx="349.17" cy="186.80" r="2.8" fill="#f03a18"/>
<circle cx="387.70" cy="167.60" r="2.8" fill="#f03a18"/>
<circle cx="426.23" cy="158.80" r="2.8" fill="#f03a18"/>
<circle cx="464.77" cy="126.10" r="2.8" fill="#f03a18"/>
<circle cx="522.57" cy="74.40" r="2.8" fill="#f03a18"/>
<circle cx="310.63" cy="207.60" r="2.8" fill="#2222ee"/>
<circle cx="329.90" cy="202.50" r="2.8" fill="#2222ee"/>
<circle cx="349.17" cy="198.80" r="2.8" fill="#2222ee"/>
<circle cx="387.70" cy="191.20" r="2.8" fill="#2222ee"/>
<circle cx="426.23" cy="171.30" r="2.8" fill="#2222ee"/>
<circle cx="464.77" cy="163.70" r="2.8" fill="#2222ee"/>
<circle cx="522.57" cy="139.90" r="2.8" fill="#2222ee"/>
<path d="M310.63,200.90 V205.90 M308.73,200.90 H312.53 M308.73,205.90 H312.53" stroke="#d95319" stroke-width="1" fill="none" opacity="0.85"/>
<path d="M329.90,182.80 V198.80 M328.00,182.80 H331.80 M328.00,198.80 H331.80" stroke="#d95319" stroke-width="1" fill="none" opacity="0.85"/>
<path d="M349.17,184.30 V189.30 M347.27,184.30 H351.07 M347.27,189.30 H351.07" stroke="#d95319" stroke-width="1" fill="none" opacity="0.85"/>
<path d="M387.70,163.60 V171.60 M385.80,163.60 H389.60 M385.80,171.60 H389.60" stroke="#d95319" stroke-width="1" fill="none" opacity="0.85"/>
<path d="M426.23,145.80 V171.80 M424.33,145.80 H428.13 M424.33,171.80 H428.13" stroke="#d95319" stroke-width="1" fill="none" opacity="0.85"/>
<path d="M464.77,122.10 V130.10 M462.87,122.10 H466.67 M462.87,130.10 H466.67" stroke="#d95319" stroke-width="1" fill="none" opacity="0.85"/>
<path d="M522.57,64.80 V84.00 M520.67,64.80 H524.47 M520.67,84.00 H524.47" stroke="#d95319" stroke-width="1" fill="none" opacity="0.85"/>
<path d="M310.63,206.10 V209.10 M308.73,206.10 H312.53 M308.73,209.10 H312.53" stroke="#7e2f8e" stroke-width="1" fill="none" opacity="0.85"/>
<path d="M329.90,200.50 V204.50 M328.00,200.50 H331.80 M328.00,204.50 H331.80" stroke="#7e2f8e" stroke-width="1" fill="none" opacity="0.85"/>
<path d="M349.17,193.30 V204.30 M347.27,193.30 H351.07 M347.27,204.30 H351.07" stroke="#7e2f8e" stroke-width="1" fill="none" opacity="0.85"/>
<path d="M387.70,189.20 V193.20 M385.80,189.20 H389.60 M385.80,193.20 H389.60" stroke="#7e2f8e" stroke-width="1" fill="none" opacity="0.85"/>
<path d="M426.23,162.50 V180.10 M424.33,162.50 H428.13 M424.33,180.10 H428.13" stroke="#7e2f8e" stroke-width="1" fill="none" opacity="0.85"/>
<path d="M464.77,161.70 V165.70 M462.87,161.70 H466.67 M462.87,165.70 H466.67" stroke="#7e2f8e" stroke-width="1" fill="none" opacity="0.85"/>
<path d="M522.57,135.70 V144.10 M520.67,135.70 H524.47 M520.67,144.10 H524.47" stroke="#7e2f8e" stroke-width="1" fill="none" opacity="0.85"/>
<rect x="312.1" y="54.5" width="84.4" height="32.9" fill="#fff" stroke="#000" stroke-width="1.2"/>
<circle cx="323.4" cy="63.4" r="2.3" fill="#ff0000"/>
<circle cx="323.4" cy="78" r="2.3" fill="#0000ff"/>
<g transform="translate(336,67.4) scale(1,1.08)"><text x="0" y="0" font-size="11.5" class="t"><tspan font-style="italic">L</tspan> = 0.7 mm</text></g>
<g transform="translate(336,82.0) scale(1,1.08)"><text x="0" y="0" font-size="11.5" class="t"><tspan font-style="italic">L</tspan> = 1.2 mm</text></g>
</svg>
</body></html>
